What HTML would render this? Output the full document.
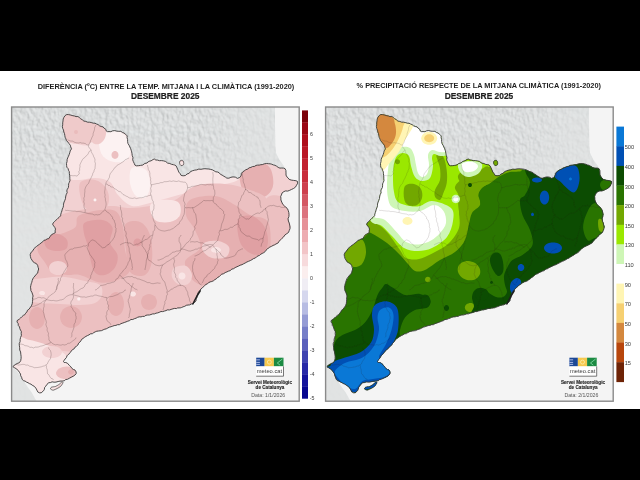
<!DOCTYPE html>
<html><head><meta charset="utf-8"><title>Mapes</title><style>
html,body{margin:0;padding:0;width:640px;height:480px;overflow:hidden;background:#000}
svg{display:block;will-change:transform}
text{font-family:"Liberation Sans",sans-serif}
</style></head><body>
<svg width="640" height="480" viewBox="0 0 640 480">
<defs>
<filter id="relief" x="0" y="0" width="100%" height="100%" color-interpolation-filters="sRGB">
<feTurbulence type="fractalNoise" baseFrequency="0.28 0.18" numOctaves="3" seed="7" result="n"/>
<feDiffuseLighting in="n" surfaceScale="1.6" diffuseConstant="1" lighting-color="#fff" result="l"><feDistantLight azimuth="315" elevation="50"/></feDiffuseLighting>
<feGaussianBlur in="l" stdDeviation="0.45" result="lb"/>
<feColorMatrix in="lb" type="matrix" values="0.2 0 0 0 0.703  0.2 0 0 0 0.711  0.2 0 0 0 0.713  0 0 0 0 1" result="m"/>
<feComposite in="m" in2="SourceGraphic" operator="in"/>
</filter>
<linearGradient id="rg" x1="0" y1="0" x2="0" y2="1">
<stop offset="0" stop-color="#fff"/><stop offset="0.15" stop-color="#fff" stop-opacity="0.95"/><stop offset="0.37" stop-color="#fff" stop-opacity="0.2"/><stop offset="0.6" stop-color="#fff" stop-opacity="0.08"/><stop offset="1" stop-color="#fff" stop-opacity="0.06"/>
</linearGradient>
<linearGradient id="rgx" x1="0" y1="0" x2="1" y2="0">
<stop offset="0" stop-color="#000" stop-opacity="0"/><stop offset="0.66" stop-color="#000" stop-opacity="0"/><stop offset="0.86" stop-color="#000" stop-opacity="0.6"/><stop offset="1" stop-color="#000" stop-opacity="0.6"/>
</linearGradient>
<mask id="rmask" maskContentUnits="objectBoundingBox"><rect width="1" height="1" fill="url(#rg)"/><rect width="1" height="1" fill="url(#rgx)"/></mask>
</defs>
<rect width="640" height="480" fill="#000"/>
<rect x="0" y="71" width="640" height="338" fill="#fff"/>
<text x="37.7" y="89.4" font-size="7.35" font-weight="bold" textLength="256.6" lengthAdjust="spacingAndGlyphs" fill="#1e1e1e">DIFERÈNCIA (ºC) ENTRE LA TEMP. MITJANA I LA CLIMÀTICA (1991-2020)</text>
<text x="131" y="99.2" font-size="8.6" font-weight="bold" textLength="68.5" lengthAdjust="spacingAndGlyphs" fill="#1e1e1e" stroke="#1e1e1e" stroke-width="0.2">DESEMBRE 2025</text>
<text x="356.6" y="88.3" font-size="7.35" font-weight="bold" textLength="244.4" lengthAdjust="spacingAndGlyphs" fill="#1e1e1e">% PRECIPITACIÓ RESPECTE DE LA MITJANA CLIMÀTICA (1991-2020)</text>
<text x="444.7" y="98.8" font-size="8.6" font-weight="bold" textLength="68.6" lengthAdjust="spacingAndGlyphs" fill="#1e1e1e" stroke="#1e1e1e" stroke-width="0.2">DESEMBRE 2025</text>
<clipPath id="fr0"><rect x="11.6" y="107" width="287.6" height="294.2"/></clipPath>
<clipPath id="cat0"><path d="M66.8 114.4C67.7 114.2 71.8 115.1 73 115.4C74.2 115.7 78 116.9 79.3 117.5C80.6 118.1 84.4 121.2 85.6 121.7C86.9 122.2 90.6 122.4 91.8 122.7C93 123 96.8 124.3 98 124.8C99.2 125.3 103.4 127.3 104.3 128C105.3 128.7 106.7 131.7 107.5 132C108.3 132.3 111.5 131.1 112.7 131C113.8 130.9 117.9 130.8 119 131C120.1 131.2 123.2 132.5 124 133C124.8 133.5 126.6 134.9 127 136C127.4 137.1 128 142.2 128.3 143.5C128.6 144.8 130 147.6 130.4 148.8C130.8 149.9 132 154.1 132.2 155.4C132.5 156.7 132.9 160.7 133.3 161.7C133.7 162.7 135.5 165.5 136.4 165.8C137.3 166.1 141.7 165.1 142.7 164.8C143.7 164.5 146 163.1 146.8 162.7C147.6 162.3 150.4 160.9 151 160.6C151.6 160.2 152.2 159.2 153 159.2C153.8 159.2 158 160.3 159.3 160.6C160.6 160.8 164.6 161.4 165.6 161.7C166.6 162 168.8 163.4 169.8 163.8C170.7 164.1 174.3 164.4 175 164.8C175.7 165.2 176.6 167.3 177 168C177.4 168.7 178.6 171.3 179 172C179.4 172.7 180.6 174.9 181.2 175.2C181.8 175.5 184.5 175.5 185.4 175.2C186.3 174.9 189.7 172.5 190.6 172C191.5 171.5 193.7 170.3 194.8 170C195.8 169.7 199.8 169.1 201 169C202.2 168.9 205.7 168.8 207 169C208.3 169.2 212.9 170.3 214.3 170.8C215.7 171.3 219.4 173.3 220.6 174C221.9 174.7 225.6 177.7 226.8 178C228 178.3 231.8 177 233 177C234.2 177 238.3 178.5 239.3 178C240.2 177.5 241.7 172.8 242.5 171.9C243.3 171 246.4 169.4 247.7 168.8C249.1 168.1 254.5 166.1 256 165.6C257.5 165.1 261 164.4 262.2 164.2C263.5 164 267.2 163.4 268.5 163.5C269.8 163.6 273.6 165.2 274.8 165.6C275.9 166 279 167.4 280 167.7C281 168 284.4 168 285 168.8C285.6 169.5 285.8 174 286.2 175C286.6 176 288.6 178.7 289.3 179.2C290 179.7 292.7 180 293.5 180.2C294.3 180.4 297.4 180.7 297.7 181.2C298 181.8 297 184.7 296.6 185.4C296.2 186.1 294.2 188 293.5 188.5C292.8 189 290.2 190.3 289.3 190.6C288.3 190.9 284.8 191.3 284 191.7C283.2 192.1 281.3 194 281 194.8C280.7 195.6 280.8 199.1 281 200C281.2 200.9 282.5 203.5 283 204.2C283.5 204.9 285.7 206.7 286.2 207.3C286.7 207.9 288 209.7 288.3 210.4C288.6 211.1 289.3 213.8 289.3 214.6C289.3 215.4 288.3 217.9 288.3 218.8C288.3 219.6 289.1 222.2 289.3 223C289.5 223.8 290.5 226.1 290.4 227C290.3 227.9 288.8 231.5 288.3 232.3C287.8 233.1 285.6 234.8 285 235.4C284.4 236 282.7 237.8 282 238.5C281.3 239.2 278.6 242.1 278 242.7C277.4 243.3 276.8 243.7 276 244.2C275.2 244.7 271 246.5 269.8 247.3C268.5 248.1 265 251.5 263.5 252.5C262 253.5 256.9 256.8 255.2 257.7C253.5 258.6 248.5 261.1 246.8 261.9C245.1 262.7 240.2 265.2 238.5 266C236.8 266.8 231.9 269.4 230.2 270.2C228.5 271 223.5 273.4 221.8 274.4C220.1 275.4 215 279.7 213.5 280.6C212 281.5 208.5 282.9 207.2 283.8C206 284.6 201.9 288 201 289C200.1 290 198.4 293.1 197.9 294.2C197.4 295.3 196.3 299.5 195.8 300.4C195.3 301.3 193.6 303 192.7 303.5C191.8 304 187.6 305.2 186.4 305.6C185.1 306 181.1 307.4 180.2 307.7C179.3 308 178.8 308.1 177.7 308.3C176.6 308.5 171 309.4 169.3 309.8C167.6 310.2 162.7 311.5 161 311.9C159.3 312.3 154.4 313.6 152.7 314C151 314.4 146 315.6 144.3 316C142.6 316.4 137.7 317.5 136 318C134.3 318.5 129.4 320.6 127.7 321.2C126 321.9 121 323.9 119.3 324.4C117.6 324.9 112.5 326 111 326.5C109.5 327 106 328.9 104.8 329.4C103.5 329.8 99.8 330.6 98.5 331C97.2 331.4 93.5 332.8 92.2 333.3C91 333.9 87 335.9 86 336.5C85 337.1 82.6 338.8 81.8 339.6C81 340.4 78.7 343.7 77.7 344.8C76.7 345.9 72.5 349.9 71.5 351C70.5 352.1 68.1 354.9 67.3 356C66.5 357.1 63.8 360.8 63.5 361.5C63.2 362.2 63.7 362.4 64.1 362.6C64.5 362.8 66.8 362.8 67.4 363.1C67.9 363.4 69.2 364.8 69.6 365.3C70 365.9 71.3 368.2 71.8 368.6C72.3 369 74.6 369.4 75 369.7C75.4 370 76.2 371.3 76.2 371.9C76.2 372.4 75.4 374.6 75 375.2C74.6 375.8 72.6 377 71.8 377.4C71 377.8 68.2 378.7 67.4 379C66.6 379.3 64.8 380.4 64.1 380.6C63.4 380.9 61 381.4 60 381.5C59 381.6 55.1 381.9 54 382C52.9 382.1 49.7 382.4 48.8 382.8C48 383.2 46 385.3 45.5 386.1C45 386.9 43.8 389.8 43.4 390.5C43 391.2 41.7 392.6 41.2 392.7C40.6 392.8 38.4 392 37.9 391.6C37.3 391.2 36.2 389 35.7 388.3C35.1 387.6 33.2 385.6 32.4 385C31.6 384.4 28.9 383.2 28 382.8C27.1 382.4 24.3 381.1 23.7 380.6C23 380.1 21.8 378.1 21.5 377.4C21.2 376.7 20.7 374.7 20.4 374C20.1 373.3 18.6 371.3 18.2 370.8C17.8 370.3 16.5 369 16 368.6C15.5 368.2 13.1 367.1 13 366.7C12.9 366.3 14.6 365 15.2 364.6C15.8 364.2 18.7 363.1 19.3 362.5C19.9 361.9 21.3 359.4 21.4 358.3C21.5 357.2 20.6 353.2 20.4 352C20.2 350.8 19.3 347 19.3 345.8C19.3 344.6 20.2 340.9 20.4 339.6C20.6 338.4 21.5 334.6 21.4 333.3C21.3 332 19.7 328.2 19.3 327C18.9 325.8 17.2 321.6 17.2 320.8C17.2 320 18.7 319.3 19.3 318.8C19.9 318.2 22.7 316.4 23.5 315.6C24.3 314.8 26.9 311.4 27.7 310.4C28.5 309.4 31.3 306.6 31.8 305.2C32.3 303.8 32.9 297.6 32.8 296C32.7 294.4 30.6 290.4 30.5 289C30.4 287.6 31.3 283.3 31.6 282.2C32 281.1 33.4 278.5 34 277.6C34.6 276.7 36.9 274 37.4 273C37.8 272 38.6 268.1 38.5 267.2C38.4 266.3 36.8 264.4 36.2 263.8C35.6 263.2 33.4 262.4 32.8 261.5C32.2 260.6 30.4 255.8 30.5 254.6C30.6 253.3 33.1 250 34 249C34.9 248 38.6 245.2 39.7 244.3C40.8 243.4 44.5 240.3 45.4 239.7C46.3 239.1 47.9 238.9 48.5 238.4C49.1 237.9 50.7 235.3 51.3 234.7C52 234.1 54.6 233.2 55 232.5C55.4 231.8 55.2 228.3 55 227.5C54.8 226.7 52.4 225.1 52.5 224.4C52.6 223.7 55.2 221.5 56 220.6C56.8 219.7 59.5 217.2 60.3 215.6C61.1 214 63.2 206.1 63.8 204.2C64.3 202.3 65.2 198.2 65.5 197C65.8 195.8 66.5 193.8 66.8 192.5C67.2 191.2 68.7 185.7 69 184C69.3 182.3 70 177 70 175.8C70 174.6 69.3 172.7 69 171.7C68.7 170.7 66.9 166.8 66.8 165.4C66.7 164 67.6 159.2 67.9 158C68.2 156.8 69.7 154.1 70 153C70.3 151.9 71.3 148 71 146.7C70.7 145.4 67.5 141.9 66.8 140.4C66.1 138.9 64.1 133.6 63.7 132C63.3 130.4 62.7 126.2 62.7 124.8C62.7 123.3 63.3 118.5 63.7 117.5C64.1 116.5 65.9 114.6 66.8 114.4Z"/><path d="M63 382.8C62.9 383.2 61.4 385.6 60.9 386.1C60.4 386.7 58.4 387.9 57.6 388.3C56.8 388.7 53.9 390.1 53.2 390.2C52.5 390.3 50.7 389.3 50.5 389C50.3 388.7 51 387.4 51.5 387.2C52 386.9 54.6 386.8 55.4 386.5C56.1 386.2 58.3 385 59 384.5C59.7 384 61.6 382 62 381.8C62.4 381.6 63.1 382.4 63 382.8Z"/><path d="M180 161C180.4 160.5 181.7 160.1 182.3 160.3C182.9 160.5 183.4 161.4 183.6 162.2C183.8 162.9 183.8 164.2 183.4 164.8C183 165.4 181.6 165.8 181 165.6C180.4 165.3 179.8 164.1 179.6 163.3C179.4 162.5 179.6 161.5 180 161Z"/></clipPath>
<g clip-path="url(#fr0)">
<rect x="11.6" y="107" width="287.6" height="294.2" fill="#f4f4f4"/>
<path d="M10 105L275 105L275 125L275.3 145L276 153L279.5 160L283.5 165.5L285 168.8L286.2 175L289.3 179.2L293.5 180.2L297.7 181.2L296.6 185.4L293.5 188.5L289.3 190.6L284 191.7L281 194.8L281 200L283 204.2L286.2 207.3L288.3 210.4L289.3 214.6L288.3 218.8L289.3 223L290.4 227L288.3 232.3L285 235.4L282 238.5L278 242.7L276 244.2L269.8 247.3L263.5 252.5L255.2 257.7L246.8 261.9L238.5 266L230.2 270.2L221.8 274.4L213.5 280.6L207.2 283.8L201 289L197.9 294.2L195.8 300.4L192.7 303.5L186.4 305.6L180.2 307.7L177.7 308.3L169.3 309.8L161 311.9L152.7 314L144.3 316L136 318L127.7 321.2L119.3 324.4L111 326.5L104.8 329.4L98.5 331L92.2 333.3L86 336.5L81.8 339.6L77.7 344.8L71.5 351L67.3 356L63.5 361.5L64.1 362.6L67.4 363.1L69.6 365.3L71.8 368.6L75 369.7L76.2 371.9L75 375.2L71.8 377.4L67.4 379L64.1 380.6L60 381.5L54 382L48.8 382.8L45.5 386.1L43.4 390.5L41.2 392.7L37.9 391.6L35.7 388.3L32.4 385L28 382.8L23.7 380.6L21.5 377.4L20.4 374L18.2 370.8L16 368.6L13 366.7L17 371L22 378L27 386L32 393L37 402L10 402Z" fill="#e2e4e4"/>
<path d="M10 105L275 105L275 125L275.3 145L276 153L279.5 160L283.5 165.5L285 168.8L286.2 175L289.3 179.2L293.5 180.2L297.7 181.2L296.6 185.4L293.5 188.5L289.3 190.6L284 191.7L281 194.8L281 200L283 204.2L286.2 207.3L288.3 210.4L289.3 214.6L288.3 218.8L289.3 223L290.4 227L288.3 232.3L285 235.4L282 238.5L278 242.7L276 244.2L269.8 247.3L263.5 252.5L255.2 257.7L246.8 261.9L238.5 266L230.2 270.2L221.8 274.4L213.5 280.6L207.2 283.8L201 289L197.9 294.2L195.8 300.4L192.7 303.5L186.4 305.6L180.2 307.7L177.7 308.3L169.3 309.8L161 311.9L152.7 314L144.3 316L136 318L127.7 321.2L119.3 324.4L111 326.5L104.8 329.4L98.5 331L92.2 333.3L86 336.5L81.8 339.6L77.7 344.8L71.5 351L67.3 356L63.5 361.5L64.1 362.6L67.4 363.1L69.6 365.3L71.8 368.6L75 369.7L76.2 371.9L75 375.2L71.8 377.4L67.4 379L64.1 380.6L60 381.5L54 382L48.8 382.8L45.5 386.1L43.4 390.5L41.2 392.7L37.9 391.6L35.7 388.3L32.4 385L28 382.8L23.7 380.6L21.5 377.4L20.4 374L18.2 370.8L16 368.6L13 366.7L17 371L22 378L27 386L32 393L37 402L10 402Z" fill="#fff" filter="url(#relief)" mask="url(#rmask)"/>
<g clip-path="url(#cat0)">
<rect x="11.6" y="107" width="287.6" height="294.2" fill="#f2d1d2"/>
<path d="M88 116C91.3 113 103.3 122.7 110 126C116.7 129.3 123 131.7 128 136C133 140.3 134.7 148 140 152C145.3 156 152.5 158.3 160 160C167.5 161.7 175.8 161.5 185 162C194.2 162.5 205.8 162.3 215 163C224.2 163.7 236.2 163.2 240 166C243.8 168.8 242.2 176.7 238 180C233.8 183.3 223 184 215 186C207 188 197.8 190 190 192C182.2 194 174.7 196.2 168 198C161.3 199.8 156 201.7 150 203C144 204.3 137.3 207.3 132 206C126.7 204.7 121.7 199 118 195C114.3 191 113.8 184.8 110 182C106.2 179.2 100.3 178.3 95 178C89.7 177.7 82.8 180.3 78 180C73.2 179.7 69 181 66 176C63 171 59.3 155.5 60 150C60.7 144.5 65 144 70 143C75 142 87 148.5 90 144C93 139.5 84.7 119 88 116Z" fill="#f9e5e5"/>
<path d="M100 130C102.5 126.3 110.3 126.3 115 128C119.7 129.7 125.5 135.5 128 140C130.5 144.5 131 151.3 130 155C129 158.7 125.7 161.2 122 162C118.3 162.8 111.7 162 108 160C104.3 158 101.3 155 100 150C98.7 145 97.5 133.7 100 130Z" fill="#fcf2f2"/>
<path d="M132 168C134.7 165.8 143 167.2 146 170C149 172.8 150 180.5 150 185C150 189.5 148.3 195.2 146 197C143.7 198.8 138.7 198.3 136 196C133.3 193.7 130.7 187.7 130 183C129.3 178.3 129.3 170.2 132 168Z" fill="#fcf2f2"/>
<path d="M177 209C177 211.1 175.7 213.9 174.1 215.4C172.4 216.9 169.4 218 167 218C164.6 218 161.6 216.9 159.9 215.4C158.3 213.9 157 211.1 157 209C157 206.9 158.3 204.1 159.9 202.6C161.6 201.1 164.6 200 167 200C169.4 200 172.4 201.1 174.1 202.6C175.7 204.1 177 206.9 177 209Z" fill="#f9e5e5"/>
<path d="M168.5 206C168.5 206.8 168.1 207.9 167.5 208.5C166.9 209.1 165.8 209.5 165 209.5C164.2 209.5 163.1 209.1 162.5 208.5C161.9 207.9 161.5 206.8 161.5 206C161.5 205.2 161.9 204.1 162.5 203.5C163.1 202.9 164.2 202.5 165 202.5C165.8 202.5 166.9 202.9 167.5 203.5C168.1 204.1 168.5 205.2 168.5 206Z" fill="#fcf2f2"/>
<path d="M64 113C67 111.7 74.8 115.5 80 117C85.2 118.5 92.2 119.5 95 122C97.8 124.5 97.5 128.7 97 132C96.5 135.3 94.8 140 92 142C89.2 144 84 144.2 80 144C76 143.8 71 144.2 68 141C65 137.8 62.7 129.7 62 125C61.3 120.3 61 114.3 64 113Z" fill="#efcaca"/>
<path d="M78 132C78 132.6 77.5 133.4 77 133.7C76.5 134 75.5 134 75 133.7C74.5 133.4 74 132.6 74 132C74 131.4 74.5 130.6 75 130.3C75.5 130 76.5 130 77 130.3C77.5 130.6 78 131.4 78 132Z" fill="#eabcbc"/>
<path d="M93 122C94.5 121 97.8 123 100 124C102.2 125 105.2 125.7 106 128C106.8 130.3 106.2 135.3 105 138C103.8 140.7 101.2 143.3 99 144C96.8 144.7 93.3 144.3 92 142C90.7 139.7 90.8 133.3 91 130C91.2 126.7 91.5 123 93 122Z" fill="#f0caca"/>
<path d="M118.5 155C118.5 155.9 118.1 157.2 117.5 157.8C116.9 158.5 115.8 159 115 159C114.2 159 113.1 158.5 112.5 157.8C111.9 157.2 111.5 155.9 111.5 155C111.5 154.1 111.9 152.8 112.5 152.2C113.1 151.5 114.2 151 115 151C115.8 151 116.9 151.5 117.5 152.2C118.1 152.8 118.5 154.1 118.5 155Z" fill="#ecc0c1"/>
<path d="M80 183C82.2 179.3 90.7 179.2 95 180C99.3 180.8 103.7 184.7 106 188C108.3 191.3 109.3 196.3 109 200C108.7 203.7 107.2 208.2 104 210C100.8 211.8 93.7 212.3 90 211C86.3 209.7 83.7 206.7 82 202C80.3 197.3 77.8 186.7 80 183Z" fill="#ecc0c1"/>
<path d="M96.5 200C96.5 200.4 96.1 201.1 95.8 201.3C95.4 201.5 94.6 201.5 94.2 201.3C93.9 201.1 93.5 200.4 93.5 200C93.5 199.6 93.9 198.9 94.2 198.7C94.6 198.5 95.4 198.5 95.8 198.7C96.1 198.9 96.5 199.6 96.5 200Z" fill="#fcf2f2"/>
<path d="M242 165C244.7 161.7 251.3 160.5 256 161C260.7 161.5 267.2 163.8 270 168C272.8 172.2 274 181.2 273 186C272 190.8 268.3 195.3 264 197C259.7 198.7 251 198.7 247 196C243 193.3 240.8 186.2 240 181C239.2 175.8 239.3 168.3 242 165Z" fill="#e6b0b1"/>
<path d="M266 200C268.3 194 275.7 195.2 280 196C284.3 196.8 289.7 200.2 292 205C294.3 209.8 294.7 218.8 294 225C293.3 231.2 291.3 238.5 288 242C284.7 245.5 277.7 247.7 274 246C270.3 244.3 267.3 239.7 266 232C264.7 224.3 263.7 206 266 200Z" fill="#ecc0c1"/>
<path d="M40 225C48 219.2 53.3 217.5 60 215C66.7 212.5 71.7 211.5 80 210C88.3 208.5 101.7 206.3 110 206C118.3 205.7 123.3 208 130 208C136.7 208 142.5 207.3 150 206C157.5 204.7 167.5 203.3 175 200C182.5 196.7 186.7 188.7 195 186C203.3 183.3 215.8 183.3 225 184C234.2 184.7 242.8 187.3 250 190C257.2 192.7 263 193.3 268 200C273 206.7 277.2 219.2 280 230C282.8 240.8 298.3 250 285 265C271.7 280 227.5 306.7 200 320C172.5 333.3 140 339.7 120 345C100 350.3 93.3 351.7 80 352C66.7 352.3 51.3 349 40 347C28.7 345 16.7 356.2 12 340C7.3 323.8 7.3 269.2 12 250C16.7 230.8 32 230.8 40 225Z" fill="#ecc0c1"/>
<path d="M80 215C86.2 212.1 105.4 208.3 112.5 210C119.6 211.7 120.4 218.3 122.5 225C124.6 231.7 123.8 242.5 125 250C126.2 257.5 131.2 265 130 270C128.8 275 122.5 277.9 117.5 280C112.5 282.1 106.2 283.3 100 282.5C93.8 281.7 85.4 276.2 80 275C74.6 273.8 72.1 275.4 67.5 275C62.9 274.6 56.2 274.6 52.5 272.5C48.8 270.4 47.5 266.2 45 262.5C42.5 258.8 37.9 254.2 37.5 250C37.1 245.8 39.2 240 42.5 237.5C45.8 235 52.1 236.7 57.5 235C62.9 233.3 71.2 230.8 75 227.5C78.8 224.2 73.8 217.9 80 215Z" fill="#e6b0b1"/>
<path d="M125 225C127.3 220.3 135.8 220.3 140 222C144.2 223.7 148 228.7 150 235C152 241.3 152.8 253.3 152 260C151.2 266.7 148.7 273 145 275C141.3 277 133.2 276.2 130 272C126.8 267.8 126.8 257.8 126 250C125.2 242.2 122.7 229.7 125 225Z" fill="#e6b0b1"/>
<path d="M190 200C194.8 196.8 207.5 195.2 215 196C222.5 196.8 229.2 201.8 235 205C240.8 208.2 244.5 212.2 250 215C255.5 217.8 264.7 216.2 268 222C271.3 227.8 271 242.3 270 250C269 257.7 267 263.3 262 268C257 272.7 247.8 275.2 240 278C232.2 280.8 222.5 284.3 215 285C207.5 285.7 200 285.8 195 282C190 278.2 184.2 267.7 185 262C185.8 256.3 198.3 253.3 200 248C201.7 242.7 197.3 235.5 195 230C192.7 224.5 186.8 220 186 215C185.2 210 185.2 203.2 190 200Z" fill="#e6b0b1"/>
<path d="M85 222.5C88.1 220.4 97.9 219.2 102.5 220C107.1 220.8 111.2 223.8 112.5 227.5C113.8 231.2 109.2 237.9 110 242.5C110.8 247.1 116.7 250.8 117.5 255C118.3 259.2 117.1 264.2 115 267.5C112.9 270.8 108.3 274.2 105 275C101.7 275.8 97.5 275.4 95 272.5C92.5 269.6 91.2 262.1 90 257.5C88.8 252.9 88.5 249.2 87.5 245C86.5 240.8 84.2 236.2 83.8 232.5C83.3 228.8 81.9 224.6 85 222.5Z" fill="#e0a0a3"/>
<path d="M45 236C47 233.8 54.3 233.3 58 234C61.7 234.7 65.7 237.5 67 240C68.3 242.5 68 247.2 66 249C64 250.8 58.3 251.3 55 251C51.7 250.7 47.7 249.5 46 247C44.3 244.5 43 238.2 45 236Z" fill="#e0a0a3"/>
<path d="M141.5 242.5C141.5 243.4 141 244.7 140.3 245.3C139.7 246 138.4 246.5 137.5 246.5C136.6 246.5 135.3 246 134.7 245.3C134 244.7 133.5 243.4 133.5 242.5C133.5 241.6 134 240.3 134.7 239.7C135.3 239 136.6 238.5 137.5 238.5C138.4 238.5 139.7 239 140.3 239.7C141 240.3 141.5 241.6 141.5 242.5Z" fill="#e0a0a3"/>
<path d="M238 220C240 215.7 247.7 215 252 216C256.3 217 261.3 221.7 264 226C266.7 230.3 268.3 237.3 268 242C267.7 246.7 265 252.2 262 254C259 255.8 253.7 255 250 253C246.3 251 242 247.5 240 242C238 236.5 236 224.3 238 220Z" fill="#e0a0a3"/>
<path d="M200 262C205 258.7 216.7 259 225 258C233.3 257 243.8 255.3 250 256C256.2 256.7 262 258.8 262 262C262 265.2 256.2 271.5 250 275C243.8 278.5 232.5 281.3 225 283C217.5 284.7 210 285.8 205 285C200 284.2 195.8 281.8 195 278C194.2 274.2 195 265.3 200 262Z" fill="#e6b0b1"/>
<path d="M204 243C206.5 241.3 213.8 240.3 218 241C222.2 241.7 227.7 244.3 229 247C230.3 249.7 228.8 255.2 226 257C223.2 258.8 215.8 259 212 258C208.2 257 204.3 253.5 203 251C201.7 248.5 201.5 244.7 204 243Z" fill="#f2d1d2"/>
<path d="M221 250C221 250.7 220.4 251.6 219.5 252.1C218.7 252.6 217.2 253 216 253C214.8 253 213.3 252.6 212.5 252.1C211.6 251.6 211 250.7 211 250C211 249.3 211.6 248.4 212.5 247.9C213.3 247.4 214.8 247 216 247C217.2 247 218.7 247.4 219.5 247.9C220.4 248.4 221 249.3 221 250Z" fill="#f9e5e5"/>
<path d="M174 268C176.3 266.2 183 264.8 186 266C189 267.2 191.7 272 192 275C192.3 278 190.3 282.5 188 284C185.7 285.5 180.7 285.2 178 284C175.3 282.8 172.7 279.7 172 277C171.3 274.3 171.7 269.8 174 268Z" fill="#f2d1d2"/>
<path d="M185.5 276C185.5 276.8 185.1 277.9 184.5 278.5C183.9 279.1 182.8 279.5 182 279.5C181.2 279.5 180.1 279.1 179.5 278.5C178.9 277.9 178.5 276.8 178.5 276C178.5 275.2 178.9 274.1 179.5 273.5C180.1 272.9 181.2 272.5 182 272.5C182.8 272.5 183.9 272.9 184.5 273.5C185.1 274.1 185.5 275.2 185.5 276Z" fill="#f9e5e5"/>
<path d="M150 206C150.8 202.7 155.3 200.7 160 200C164.7 199.3 174.7 199.5 178 202C181.3 204.5 181.3 211.7 180 215C178.7 218.3 174.2 221.2 170 222C165.8 222.8 158.3 222.7 155 220C151.7 217.3 149.2 209.3 150 206Z" fill="#f9e5e5"/>
<path d="M28 282C30.8 278.5 38.8 278.8 45 278C51.2 277.2 58.3 276.5 65 277C71.7 277.5 79.2 279.7 85 281C90.8 282.3 97.2 282.7 100 285C102.8 287.3 102.8 292 102 295C101.2 298 98.7 301.3 95 303C91.3 304.7 85.8 304.8 80 305C74.2 305.2 66.7 304.3 60 304C53.3 303.7 45.3 303.8 40 303C34.7 302.2 30 302.5 28 299C26 295.5 25.2 285.5 28 282Z" fill="#f2d1d2"/>
<path d="M67 268C67 269.6 65.9 271.8 64.4 272.9C62.9 274.1 60.1 275 58 275C55.9 275 53.1 274.1 51.6 272.9C50.1 271.8 49 269.6 49 268C49 266.4 50.1 264.2 51.6 263.1C53.1 261.9 55.9 261 58 261C60.1 261 62.9 261.9 64.4 263.1C65.9 264.2 67 266.4 67 268Z" fill="#f2d1d2"/>
<path d="M44.6 293.5C44.6 294 44.2 294.7 43.8 294.9C43.4 295.1 42.6 295.1 42.2 294.9C41.8 294.7 41.4 294 41.4 293.5C41.4 293 41.8 292.3 42.2 292.1C42.6 291.9 43.4 291.9 43.8 292.1C44.2 292.3 44.6 293 44.6 293.5Z" fill="#fcf2f2"/>
<path d="M80.4 299C80.4 299.5 80 300.2 79.6 300.4C79.2 300.6 78.4 300.6 78 300.4C77.6 300.2 77.2 299.5 77.2 299C77.2 298.5 77.6 297.8 78 297.6C78.4 297.4 79.2 297.4 79.6 297.6C80 297.8 80.4 298.5 80.4 299Z" fill="#fcf2f2"/>
<path d="M82 317C82 319.6 80.6 322.9 78.8 324.8C76.9 326.6 73.6 328 71 328C68.4 328 65.1 326.6 63.2 324.8C61.4 322.9 60 319.6 60 317C60 314.4 61.4 311.1 63.2 309.2C65.1 307.4 68.4 306 71 306C73.6 306 76.9 307.4 78.8 309.2C80.6 311.1 82 314.4 82 317Z" fill="#e6b0b1"/>
<path d="M45 318C45 320.6 44 323.9 42.7 325.8C41.3 327.6 38.9 329 37 329C35.1 329 32.7 327.6 31.3 325.8C30 323.9 29 320.6 29 318C29 315.4 30 312.1 31.3 310.2C32.7 308.4 35.1 307 37 307C38.9 307 41.3 308.4 42.7 310.2C44 312.1 45 315.4 45 318Z" fill="#e6b0b1"/>
<path d="M124 304C124 306.8 123 310.5 121.7 312.5C120.3 314.5 117.9 316 116 316C114.1 316 111.7 314.5 110.3 312.5C109 310.5 108 306.8 108 304C108 301.2 109 297.5 110.3 295.5C111.7 293.5 114.1 292 116 292C117.9 292 120.3 293.5 121.7 295.5C123 297.5 124 301.2 124 304Z" fill="#e6b0b1"/>
<path d="M157 302C157 303.9 156 306.3 154.7 307.7C153.3 309 150.9 310 149 310C147.1 310 144.7 309 143.3 307.7C142 306.3 141 303.9 141 302C141 300.1 142 297.7 143.3 296.3C144.7 295 147.1 294 149 294C150.9 294 153.3 295 154.7 296.3C156 297.7 157 300.1 157 302Z" fill="#e6b0b1"/>
<path d="M10 338C13.3 330.5 23.3 338.7 30 340C36.7 341.3 44.7 344 50 346C55.3 348 58.3 349.3 62 352C65.7 354.7 70 359 72 362C74 365 75.2 367 74 370C72.8 373 69 376.3 65 380C61 383.7 55.8 389 50 392C44.2 395 36.7 399.2 30 398C23.3 396.8 13.3 395 10 385C6.7 375 6.7 345.5 10 338Z" fill="#f9e5e5"/>
<path d="M62 352C62 353.4 60.7 355.2 59.1 356.2C57.4 357.2 54.4 358 52 358C49.6 358 46.6 357.2 44.9 356.2C43.3 355.2 42 353.4 42 352C42 350.6 43.3 348.8 44.9 347.8C46.6 346.8 49.6 346 52 346C54.4 346 57.4 346.8 59.1 347.8C60.7 348.8 62 350.6 62 352Z" fill="#f2d1d2"/>
<path d="M78 373C78 374.5 76.6 376.5 74.8 377.6C72.9 378.7 69.6 379.5 67 379.5C64.4 379.5 61.1 378.7 59.2 377.6C57.4 376.5 56 374.5 56 373C56 371.5 57.4 369.5 59.2 368.4C61.1 367.3 64.4 366.5 67 366.5C69.6 366.5 72.9 367.3 74.8 368.4C76.6 369.5 78 371.5 78 373Z" fill="#ecc0c1"/>
<path d="M74 372C74 372.7 73.2 373.8 72.5 374.2C71.8 374.5 70.2 374.5 69.5 374.2C68.8 373.8 68 372.7 68 372C68 371.3 68.8 370.2 69.5 369.8C70.2 369.5 71.8 369.5 72.5 369.8C73.2 370.2 74 371.3 74 372Z" fill="#e6b0b1"/>
<path d="M45 293C45 293.6 44.2 294.4 43.5 294.7C42.8 295 41.2 295 40.5 294.7C39.8 294.4 39 293.6 39 293C39 292.4 39.8 291.6 40.5 291.3C41.2 291 42.8 291 43.5 291.3C44.2 291.6 45 292.4 45 293Z" fill="#f9e5e5"/>
<path d="M136 294C136 294.7 135.2 295.8 134.5 296.2C133.8 296.5 132.2 296.5 131.5 296.2C130.8 295.8 130 294.7 130 294C130 293.3 130.8 292.2 131.5 291.8C132.2 291.5 133.8 291.5 134.5 291.8C135.2 292.2 136 293.3 136 294Z" fill="#f9e5e5"/>
</g>
<g clip-path="url(#cat0)">
<path d="M67.5 140.0L68.8 140.3L70.6 141.0L72.8 141.2L74.8 142.4L76.6 142.8L78.6 143.0L80.3 142.6L81.8 143.1L83.3 143.1L85.3 143.6L86.9 144.9L88.3 145.0" fill="none" stroke="#2a1a1a" stroke-width="0.5" stroke-opacity="0.42"/>
<path d="M95.8 125.0L95.4 126.1L94.6 127.6L94.5 129.6L93.8 131.6L93.2 133.3L93.0 135.4L92.0 137.3L91.3 139.1L90.5 140.7L90.1 142.7L88.9 143.8L88.7 145.0L88.5 146.7L89.6 148.4L91.2 149.8L91.2 151.8L92.1 153.3L93.2 155.1L93.6 156.5L94.5 158.1L95.0 159.8L94.8 161.7L95.4 163.3L95.3 165.1L95.1 166.9L95.0 168.6L94.2 170.0L93.8 171.8L92.8 173.3L92.5 175.0L91.6 176.6L90.9 178.3L89.9 179.9L89.2 181.7L88.5 183.4L87.1 184.8L86.2 186.2L85.4 187.8L84.8 189.9L84.9 191.4L84.7 192.9L84.5 194.6L84.6 196.3L83.8 198.1L84.1 200.0L83.7 201.8L84.3 203.7L83.9 205.9L84.2 207.9L85.2 209.7L85.2 211.3L85.0 212.5" fill="none" stroke="#2a1a1a" stroke-width="0.5" stroke-opacity="0.42"/>
<path d="M90.8 150.0L89.9 150.8L88.9 152.1L88.1 153.9L87.1 155.3L85.7 156.3L84.7 157.6L83.2 158.6L82.3 159.9L81.4 161.6L80.6 163.2L79.8 165.0L80.0 166.7L79.6 168.5L79.7 170.3L78.8 171.6L79.3 173.8L78.1 174.8L77.1 176.1L75.0 175.6L73.0 175.8L70.6 175.4L69.0 175.0" fill="none" stroke="#2a1a1a" stroke-width="0.5" stroke-opacity="0.42"/>
<path d="M129.0 158.0L127.9 158.4L126.6 159.2L124.9 159.9L123.6 161.5L121.8 162.5L120.3 163.6L118.9 164.4L117.1 165.2L116.1 166.8L114.6 167.7L113.8 169.2L112.7 170.5L111.6 172.0L110.3 173.6L109.6 175.5L109.4 177.4L108.5 178.9L107.7 180.7L106.3 181.8L105.7 183.9L105.4 185.5L105.2 187.2L105.1 189.2L104.7 191.2L104.7 193.1L105.2 195.0L104.8 196.8L105.4 198.5L105.4 200.3L105.9 201.9L106.1 203.5L106.1 205.0L105.7 206.8L105.2 208.5L104.6 210.2L103.1 211.2L102.3 212.3L100.9 213.5L99.7 214.5L97.5 214.9L96.1 214.6L94.3 215.0L92.6 214.1L90.6 213.8L88.5 213.6L86.7 213.1L85.0 212.5L83.1 212.4L81.5 211.9L79.9 211.6L78.2 211.5L76.6 211.6L75.0 211.0L73.2 211.1L71.3 210.9L69.3 210.7L67.6 210.4L66.0 210.5L65.0 210.0" fill="none" stroke="#2a1a1a" stroke-width="0.5" stroke-opacity="0.42"/>
<path d="M147.5 165.0L147.6 166.1L148.1 167.6L148.3 169.5L149.4 171.2L149.9 173.2L149.8 175.0L150.1 176.7L150.7 178.3L150.5 180.0L150.9 181.7L150.6 183.4L151.4 185.0L151.3 186.7L150.6 188.3L151.0 190.0L151.1 191.7L150.5 193.3L150.9 195.0L151.7 196.6L151.8 198.3L152.3 200.1L153.3 201.6L153.3 203.4L154.1 205.0L153.9 206.7L153.9 208.4L153.4 210.1L152.3 211.6L152.6 213.3L152.0 215.0L152.8 216.7L153.1 218.4L153.5 220.1L154.2 221.7L155.2 223.3L154.9 225.0L154.7 226.6L154.8 228.4L154.5 230.1L153.2 231.6L153.0 233.3L152.8 235.1L152.1 236.7L151.9 238.4L151.0 239.9L150.8 241.7L150.8 243.4L149.7 244.9L150.0 246.7L149.4 248.2L149.2 249.8L148.1 251.2L148.3 253.1L147.5 255.0L147.6 256.6L146.9 258.3L146.4 260.2L146.2 262.1L146.0 264.1L145.7 265.9L145.4 267.6L145.1 268.9L145.0 270.0" fill="none" stroke="#2a1a1a" stroke-width="0.5" stroke-opacity="0.42"/>
<path d="M106.0 184.0L107.1 184.0L108.0 185.3L109.7 185.5L110.9 187.0L113.0 187.0L114.3 188.6L116.0 189.3L117.3 190.3L118.7 191.4L120.6 191.9L121.9 193.1L123.0 194.5L124.6 195.2L126.1 196.1L127.6 196.7L129.1 197.8L130.9 198.2L132.7 198.4L134.6 197.9L136.5 198.6L138.3 198.1L140.0 197.7L141.7 197.7L143.6 197.3L145.3 196.4L147.2 196.3L148.7 195.6L150.0 195.4L151.0 195.0" fill="none" stroke="#2a1a1a" stroke-width="0.5" stroke-opacity="0.42"/>
<path d="M151.0 185.0L152.0 184.7L153.4 184.4L155.1 184.0L156.9 183.5L158.8 183.4L160.7 182.6L162.5 182.6L164.2 181.7L166.0 181.7L167.9 181.5L169.7 181.0L171.6 181.4L173.3 180.9L175.0 181.3L176.9 181.5L178.8 180.9L180.6 181.7L182.3 181.9L183.7 182.2L185.2 182.1L186.7 183.7L187.3 185.4L187.7 187.5L187.4 189.0L186.7 190.5L185.9 192.3L184.6 193.9L184.3 195.8L183.8 197.5L183.6 199.2L183.5 200.9L184.5 202.5L185.1 204.1L184.5 205.9L184.7 207.5L184.5 209.2L184.5 210.9L184.4 212.7L184.0 214.5L183.3 216.0L182.5 217.5L182.1 219.4L180.6 220.7L179.6 222.2L179.1 224.0L177.3 224.8L176.2 226.2L174.5 227.1L173.3 228.5L171.6 229.1L170.0 230.0L168.4 230.2L166.7 230.6L164.8 231.1L163.0 230.9L161.4 230.6L160.0 230.1L158.2 229.1L156.9 227.5L155.9 225.9L155.0 225.0" fill="none" stroke="#2a1a1a" stroke-width="0.5" stroke-opacity="0.42"/>
<path d="M187.5 187.5L188.7 187.6L190.2 187.3L191.9 186.3L194.0 186.3L196.1 185.8L198.1 185.4L200.0 184.6L201.7 184.4L203.5 184.7L205.4 185.0L207.3 184.5L209.1 184.8L210.7 184.6L212.0 185.1L213.0 184.8" fill="none" stroke="#2a1a1a" stroke-width="0.5" stroke-opacity="0.42"/>
<path d="M213.0 172.0L212.8 173.0L213.1 174.4L213.2 176.0L212.9 177.8L212.8 179.7L212.9 181.6L212.9 183.3L213.2 184.8L213.6 186.9L213.7 188.9L214.7 190.6L214.8 192.4L214.9 194.0L214.4 195.8L213.4 197.4L213.3 199.3L213.3 200.8L213.4 202.2L214.6 203.3L216.2 204.1L217.2 205.6L218.4 206.9L219.6 208.0L221.2 208.9L222.3 210.3L223.6 211.4L223.5 213.3L224.7 214.6L224.2 216.3L223.9 218.2L223.3 220.1L222.6 222.1L221.8 223.7L221.4 225.6L221.1 227.3L220.7 229.0L219.8 230.7L219.0 232.4L219.5 234.4L218.6 236.2L218.1 238.1L217.8 240.1L216.8 241.4L215.4 242.3L214.4 243.6L213.1 244.8L211.8 245.7L210.9 247.0L209.1 247.6L207.9 248.6L206.7 249.5L205.4 250.5L203.6 251.0L202.1 251.8L200.5 253.0L199.0 254.3L197.2 255.1L195.8 255.8L194.6 256.0" fill="none" stroke="#2a1a1a" stroke-width="0.5" stroke-opacity="0.42"/>
<path d="M213.0 200.9L211.7 200.5L209.9 200.7L207.8 200.6L205.6 200.7L203.7 200.4L202.3 201.8L201.0 202.8L199.5 203.8L198.2 204.9L197.0 205.6L195.5 206.6L194.2 207.4L192.5 207.7L190.7 207.8L188.5 207.6L186.4 207.8L185.0 207.5" fill="none" stroke="#2a1a1a" stroke-width="0.5" stroke-opacity="0.42"/>
<path d="M192.5 207.5L192.9 208.7L193.6 210.5L194.2 212.5L195.5 213.7L195.9 215.5L196.2 217.4L196.5 219.2L196.7 220.9L196.6 222.9L195.8 224.8L194.6 226.5L195.0 228.5L194.2 230.3L193.1 231.8L193.1 233.5L192.8 235.1L192.0 236.9L190.7 238.2L190.1 240.1L189.0 241.3L187.6 242.4L186.1 243.5L185.0 245.0L184.1 246.6L182.6 247.6L181.7 249.3L180.2 250.4L178.4 251.0L176.4 251.1L174.5 252.0L172.4 252.3L171.2 253.7L169.7 254.7L168.3 255.9L166.4 256.4L164.8 257.2L163.0 258.6L160.9 259.3L159.0 260.1L157.5 260.0" fill="none" stroke="#2a1a1a" stroke-width="0.5" stroke-opacity="0.42"/>
<path d="M242.8 172.0L242.5 173.3L242.4 175.4L242.8 178.0L243.3 179.3L243.1 181.0L243.6 182.7L244.4 184.4L244.8 186.1L245.3 187.8L245.5 189.5L244.7 191.1L243.8 192.6L243.4 194.4L241.8 195.5L241.4 197.2L240.7 198.7L240.3 200.6L238.7 202.3L238.5 204.2L238.0 206.1L238.1 207.8L238.8 209.6L238.9 211.4L239.5 213.1L240.8 214.4L241.2 216.1L243.0 216.9L244.5 217.8L245.8 219.2L247.3 218.8L248.9 219.2L250.0 217.9L251.5 216.8L252.7 215.4L254.2 214.6L255.9 213.6L257.7 213.0L259.7 213.3L261.0 212.1L262.6 211.5L263.3 209.9L264.9 209.1L266.0 208.1L267.2 207.0L268.5 206.2L270.3 205.6L271.8 205.7L273.6 205.3L275.4 206.0L277.4 206.6L279.4 206.3L281.1 207.3L283.2 207.5L285.3 207.3L287.2 207.5L288.8 207.8L290.0 208.0" fill="none" stroke="#2a1a1a" stroke-width="0.5" stroke-opacity="0.42"/>
<path d="M245.0 189.4L246.2 189.7L247.6 190.5L248.6 192.4L250.7 192.7L252.2 193.7L253.4 195.0L255.0 195.5L256.2 196.8L257.9 197.2L258.4 198.8L259.8 200.2L260.1 202.4L260.1 204.6L260.7 206.5L261.1 207.8" fill="none" stroke="#2a1a1a" stroke-width="0.5" stroke-opacity="0.42"/>
<path d="M265.7 207.8L265.5 209.0L265.9 210.4L267.2 211.9L267.1 213.9L267.7 215.8L267.9 217.6L268.4 219.2L268.1 221.2L267.5 223.1L267.1 224.9L266.3 226.6L266.2 228.5L265.6 230.3L264.6 232.0L264.4 233.9L263.8 235.8L263.2 237.5L263.0 239.6L262.8 241.8L261.6 243.7L261.3 245.4L261.1 246.7" fill="none" stroke="#2a1a1a" stroke-width="0.5" stroke-opacity="0.42"/>
<path d="M240.5 214.6L239.8 215.7L239.7 217.7L238.3 219.5L238.6 221.9L238.0 223.8L238.9 225.3L238.8 227.1L240.1 228.5L240.5 230.4L241.5 231.9L242.6 233.2L244.1 234.0L245.4 235.3L247.0 236.2L249.1 236.0L250.5 237.0L251.8 238.0L253.8 238.7L255.7 239.1L257.4 239.5L258.8 240.4L260.5 239.0L262.4 238.6L263.4 237.6" fill="none" stroke="#2a1a1a" stroke-width="0.5" stroke-opacity="0.42"/>
<path d="M219.8 230.7L221.1 230.8L222.9 230.4L224.8 229.3L227.1 229.4L229.0 228.5L230.5 227.3L232.6 227.3L234.1 225.7L235.7 224.9L237.2 224.3L238.2 223.8" fill="none" stroke="#2a1a1a" stroke-width="0.5" stroke-opacity="0.42"/>
<path d="M190.0 242.2L191.2 241.8L192.9 241.7L194.9 242.0L197.1 241.5L199.1 242.5L200.7 242.9L202.8 242.9L204.5 244.2L206.4 244.9L208.1 245.7L209.4 246.7L210.6 246.7" fill="none" stroke="#2a1a1a" stroke-width="0.5" stroke-opacity="0.42"/>
<path d="M152.5 235.0L151.4 235.5L149.9 236.3L148.7 238.0L147.0 239.3L144.8 239.7L143.5 241.1L141.8 242.1L139.8 242.7L138.4 244.2L136.4 244.2L135.0 245.0L132.8 245.2L131.3 243.5L129.3 242.9L127.5 242.9L125.4 242.5L123.2 243.3L121.3 244.2L120.0 245.0" fill="none" stroke="#2a1a1a" stroke-width="0.5" stroke-opacity="0.42"/>
<path d="M127.5 242.5L128.1 243.5L127.9 245.1L128.7 246.8L129.2 248.7L129.2 250.9L129.7 253.0L130.3 254.9L130.4 256.6L130.3 258.5L131.3 260.3L131.6 262.3L132.0 264.1L132.1 266.0L132.5 267.6L131.9 269.1L132.5 270.0" fill="none" stroke="#2a1a1a" stroke-width="0.5" stroke-opacity="0.42"/>
<path d="M105.0 210.0L106.0 210.6L106.9 212.0L108.7 212.8L110.0 214.4L111.5 215.8L112.6 217.5L112.7 219.0L114.2 220.2L114.5 221.9L115.2 223.5L115.5 225.2L115.2 227.0L116.1 228.5L115.9 230.0L115.9 231.9L115.2 233.6L114.8 235.5L114.3 237.3L113.3 238.7L112.6 240.0L111.1 241.5L110.1 242.9L109.0 244.3L107.4 244.9L106.1 246.5L104.5 247.5L102.4 247.8L101.2 246.9L100.1 245.4L98.3 244.2L96.9 242.5L95.3 241.1L93.7 240.3L92.5 239.9L91.1 240.6L89.7 241.9L88.5 243.7L88.3 245.9L87.1 247.5L87.7 249.4L88.5 251.1L89.3 253.0L90.1 254.9L91.3 256.2L92.3 257.8L93.5 259.3L94.3 260.9L95.0 262.5L94.6 264.0L94.7 265.6L94.5 267.4L93.4 268.9L93.0 270.7L92.1 272.3L91.6 274.1L90.7 275.7L90.6 277.8L89.6 279.5L88.1 280.7L87.9 282.8L86.1 283.7L85.0 285.0L84.3 286.8L83.0 288.0L81.2 288.6L79.7 289.6L78.3 290.7L76.8 291.7L75.0 292.4L73.5 293.6L71.9 294.6L69.9 294.9L68.1 295.6L66.4 296.5L65.0 297.8L63.6 299.1L61.8 299.8L60.0 300.0L58.4 300.6L56.7 300.9L55.0 300.8L53.3 300.4L51.6 300.6L49.9 300.4L48.2 300.0L46.5 299.6L45.0 298.3L43.3 297.7L41.5 298.0L40.0 297.4L38.1 297.4L36.4 298.5L34.6 299.1L32.9 299.2L32.0 300.0" fill="none" stroke="#2a1a1a" stroke-width="0.5" stroke-opacity="0.42"/>
<path d="M87.5 245.0L86.6 245.5L85.3 246.1L83.6 245.9L82.0 246.7L80.1 247.2L78.1 247.5L76.1 247.8L74.2 248.0L72.7 249.1L71.0 249.1L69.8 249.6L67.8 251.4L66.6 252.5L65.7 253.5L64.7 255.0L65.0 256.4L65.2 258.1L65.8 259.9L66.8 261.5L67.4 263.3L67.9 265.0L67.5 266.8L66.1 268.2L65.3 269.9L64.2 271.5L63.3 273.3L62.3 274.9L61.6 276.7L60.5 278.4L60.4 280.5L59.3 282.0L58.8 283.7L57.7 284.9L56.7 287.1L56.7 289.0L56.0 290.0" fill="none" stroke="#2a1a1a" stroke-width="0.5" stroke-opacity="0.42"/>
<path d="M120.0 205.0L120.6 206.0L120.5 207.4L120.5 209.1L121.3 210.9L121.6 212.8L121.8 214.8L121.6 216.8L122.6 218.4L122.3 220.0L122.8 222.0L123.7 223.5L123.7 225.2L124.2 226.7L124.7 228.2L124.5 230.1L125.8 231.7L126.3 233.7L125.8 235.9L126.7 237.9L127.3 239.7L127.4 241.3L127.5 242.5" fill="none" stroke="#2a1a1a" stroke-width="0.5" stroke-opacity="0.42"/>
<path d="M130.0 257.5L129.9 258.9L129.4 260.7L128.2 262.6L127.5 265.0L126.5 266.2L126.0 268.0L124.6 269.2L123.2 270.5L122.3 272.2L120.8 273.4L119.7 274.8L118.9 276.5L118.0 278.2L116.2 279.0L115.4 280.7L114.2 282.0L112.4 282.3L110.8 282.9L109.2 283.3L107.4 283.5L105.8 284.5L104.2 284.9L102.6 285.3L100.5 285.5L99.2 287.4L97.5 288.5L96.3 289.7L95.0 290.0" fill="none" stroke="#2a1a1a" stroke-width="0.5" stroke-opacity="0.42"/>
<path d="M120.0 275.0L120.7 275.9L121.6 277.1L123.3 278.1L124.4 279.8L125.7 281.5L127.2 282.9L129.0 283.7L129.9 285.1L131.7 286.5L133.5 287.6L134.9 289.0L136.5 289.4L137.5 290.0" fill="none" stroke="#2a1a1a" stroke-width="0.5" stroke-opacity="0.42"/>
<path d="M144.4 235.0L143.9 236.2L143.0 237.9L142.2 240.0L141.8 242.2L142.2 244.2L142.1 245.9L143.3 247.3L144.3 248.8L145.4 250.2L146.0 251.9L147.0 253.2L147.5 255.2L147.6 257.1L147.9 258.8L148.8 260.3L150.4 261.0L151.7 262.1L153.0 263.2L154.4 264.3L155.8 265.1L157.6 265.5L159.3 265.8L161.1 265.3L162.8 264.9L164.0 264.0L165.4 263.1L166.7 262.0L168.2 261.2L169.7 260.3L171.1 259.4L172.4 258.4L173.9 257.5L175.1 256.5L176.7 255.8L177.7 254.5L179.0 253.3L180.1 252.0L180.5 250.3L180.7 248.8L180.8 247.1L180.8 244.9L180.0 243.0L179.0 241.2L179.1 239.6L179.2 237.5L180.6 236.2L181.1 235.0" fill="none" stroke="#2a1a1a" stroke-width="0.5" stroke-opacity="0.42"/>
<path d="M162.8 264.8L162.1 266.0L161.5 267.7L160.7 269.8L160.8 272.0L160.0 274.0L160.8 275.6L161.4 277.2L162.2 278.7L163.0 280.4L164.5 281.6L165.1 283.1L165.5 285.1L166.2 286.9L166.6 288.7L167.3 290.5L166.8 292.3L167.6 294.2L166.5 295.9L166.3 297.9L166.0 299.8L164.8 301.5L164.9 303.5L164.2 305.4L163.7 307.3L163.4 308.9L162.8 310.0" fill="none" stroke="#2a1a1a" stroke-width="0.5" stroke-opacity="0.42"/>
<path d="M121.5 278.6L122.9 278.5L124.5 277.7L126.4 277.0L128.3 276.6L130.0 276.8L132.0 276.4L133.8 277.6L135.8 277.8L137.4 278.8L139.4 279.1L141.1 279.8L142.7 280.4L144.4 281.0L146.0 281.8L147.5 282.6L149.5 282.6L151.3 283.5L153.1 283.7L155.3 283.3L157.4 282.9L159.2 283.2L160.5 283.2" fill="none" stroke="#2a1a1a" stroke-width="0.5" stroke-opacity="0.42"/>
<path d="M133.0 283.0L133.1 284.1L132.3 285.4L131.6 287.0L131.2 288.8L131.0 290.6L130.5 292.3L130.2 294.2L129.4 296.0L129.3 297.9L128.3 299.6L128.2 301.5L128.8 303.3L129.2 305.2L129.6 307.2L130.4 309.0L130.1 310.7L129.8 312.7L129.3 314.8L129.2 316.9L128.3 318.0" fill="none" stroke="#2a1a1a" stroke-width="0.5" stroke-opacity="0.42"/>
<path d="M167.3 292.3L168.2 291.6L169.7 290.9L170.9 289.3L172.8 288.8L174.1 287.6L176.0 287.0L177.7 285.9L179.5 285.5L181.1 285.3L182.9 285.6L184.3 286.7L185.7 287.7L186.0 289.3L186.9 290.8L187.7 292.5L187.9 294.6L188.5 296.4L189.4 298.5L189.5 300.7L190.5 302.4L190.3 303.8" fill="none" stroke="#2a1a1a" stroke-width="0.5" stroke-opacity="0.42"/>
<path d="M181.1 248.8L182.4 249.1L184.3 249.4L186.4 250.2L188.4 250.9L190.3 251.1L192.1 250.5L193.8 250.0L195.4 249.2L197.3 249.1L198.8 248.0L200.7 248.0L202.2 246.7L203.8 246.0L205.8 245.7L207.6 244.8L209.5 244.5L210.9 244.6L212.3 244.9L213.6 245.9L214.3 247.6L215.5 248.8L217.2 250.1L218.6 251.7L220.4 253.0L220.9 254.8L222.4 255.8L223.4 257.1L224.7 258.1L226.3 258.1L228.3 257.8L230.4 257.2L232.4 256.6L234.1 256.0L235.7 254.9L236.3 253.2L237.3 251.9L238.2 250.7L240.1 249.9L241.7 249.0L243.0 248.8" fill="none" stroke="#2a1a1a" stroke-width="0.5" stroke-opacity="0.42"/>
<path d="M174.2 258.0L173.8 259.0L174.6 260.5L174.3 262.2L173.6 264.1L173.9 266.0L174.5 267.8L174.4 269.4L174.1 271.5L174.9 273.3L175.8 275.1L175.5 277.1L176.8 278.4L177.2 280.3L178.3 281.9L179.5 283.3L180.1 284.9L181.1 285.5" fill="none" stroke="#2a1a1a" stroke-width="0.5" stroke-opacity="0.42"/>
<path d="M194.9 258.0L194.9 259.1L194.5 260.5L193.3 262.0L193.1 263.9L192.6 265.8L192.5 267.7L192.7 269.4L192.7 271.2L193.3 272.9L193.8 274.8L194.7 276.5L195.4 278.3L196.5 279.6L197.5 280.7L198.7 282.4L199.6 284.1L201.1 284.6L201.7 285.5" fill="none" stroke="#2a1a1a" stroke-width="0.5" stroke-opacity="0.42"/>
<path d="M215.5 248.8L216.2 249.7L216.4 251.2L217.0 252.9L216.9 254.9L217.4 256.8L217.4 258.6L218.2 260.2L217.5 261.9L217.3 263.7L216.3 265.2L215.2 266.6L214.6 268.3L213.4 269.6L212.0 270.6L211.0 271.8L209.9 273.2L208.5 274.0L207.1 275.0L206.7 276.6L204.9 277.6L203.9 279.3L203.2 281.0L202.6 282.4L201.7 283.2" fill="none" stroke="#2a1a1a" stroke-width="0.5" stroke-opacity="0.42"/>
<path d="M58.5 278.0L58.1 279.1L58.5 280.6L58.0 282.4L57.6 284.3L57.0 286.3L56.8 288.3L56.0 290.0L55.4 291.6L53.9 292.7L52.6 294.0L50.8 294.9L49.5 296.3L48.0 297.4L47.0 298.8L46.3 300.2L44.8 301.5L44.1 303.1L44.1 304.9L44.1 306.5L43.5 308.2L43.5 310.0L43.3 311.7L43.8 313.4L44.2 315.2L44.6 317.0L45.3 318.8L46.0 320.6L46.4 322.4L45.9 324.4L46.4 326.3L47.3 328.1L47.0 330.1L47.8 331.8L48.5 333.4L48.2 335.1L48.9 337.4L48.9 339.5L49.7 341.2L51.3 342.2L52.2 343.4L53.7 344.2L55.4 344.8L57.4 344.6L59.2 345.0L61.0 345.2L62.7 344.6L64.6 345.0L66.4 344.5L67.9 343.3L69.7 343.2L70.9 342.4L72.5 341.1L74.2 339.9L75.6 338.8L76.0 337.5" fill="none" stroke="#2a1a1a" stroke-width="0.5" stroke-opacity="0.42"/>
<path d="M46.0 300.0L44.9 300.5L43.2 301.1L41.8 302.6L39.8 303.6L38.0 304.7L36.1 305.4L34.5 306.1L32.7 306.4L30.9 306.5L29.1 306.4L27.5 307.0L26.0 307.6L24.2 307.8L22.3 307.7L20.5 308.1L19.1 308.4L18.0 308.0" fill="none" stroke="#2a1a1a" stroke-width="0.5" stroke-opacity="0.42"/>
<path d="M51.0 342.5L49.7 343.0L48.0 344.0L45.8 344.5L43.6 345.4L42.1 345.9L40.4 346.2L38.8 346.9L37.0 347.2L35.2 347.1L33.5 348.0L31.8 347.2L30.0 347.4L28.4 346.3L26.7 345.8L24.9 345.7L23.6 344.7L21.3 344.1L19.0 344.0L17.3 343.0L16.0 342.5" fill="none" stroke="#2a1a1a" stroke-width="0.5" stroke-opacity="0.42"/>
<path d="M73.5 283.0L73.6 284.1L73.5 285.6L73.3 287.4L73.9 289.4L73.7 291.4L73.5 293.3L73.1 294.9L73.6 296.9L73.0 298.6L72.1 300.2L71.1 301.7L70.7 303.3L71.4 304.9L71.1 306.8L72.4 308.3L73.1 310.1L74.2 311.7L75.9 313.0L75.5 315.1L76.1 316.7L76.2 318.5L75.5 320.3L75.4 322.3L74.2 324.0L73.9 325.8L73.9 327.6L73.3 329.5L72.6 331.4L71.8 333.2L71.9 335.1L71.7 336.5L71.0 337.5" fill="none" stroke="#2a1a1a" stroke-width="0.5" stroke-opacity="0.42"/>
<path d="M73.5 295.0L74.7 295.2L76.2 295.6L78.2 296.0L80.2 296.7L82.3 297.0L84.3 296.9L86.0 297.4L87.7 296.8L89.4 296.5L91.1 296.0L92.9 296.1L94.4 295.2L96.0 295.0L97.6 295.6L99.2 296.0L101.0 296.3L102.7 296.6L104.3 297.3L106.0 297.4L107.7 297.9L109.2 296.7L111.0 296.6L112.7 296.4L114.4 295.7L116.0 295.1L117.9 294.5L119.6 293.1L121.8 292.6L123.6 291.8L124.7 290.2L126.0 290.0" fill="none" stroke="#2a1a1a" stroke-width="0.5" stroke-opacity="0.42"/>
<path d="M106.0 297.5L106.7 298.5L106.6 300.2L107.6 301.8L107.5 303.9L108.6 305.7L108.2 307.5L108.6 309.3L107.3 310.8L106.7 312.5L106.8 314.5L105.9 316.0L106.3 317.5L106.6 319.3L107.4 321.2L109.3 322.4L110.4 323.8L111.0 325.0" fill="none" stroke="#2a1a1a" stroke-width="0.5" stroke-opacity="0.42"/>
<path d="M14.0 365.0L15.1 364.9L16.6 364.5L18.4 365.1L20.4 364.8L22.4 364.4L24.3 364.4L26.0 365.2L27.9 365.0L29.4 366.1L31.1 366.5L32.7 366.9L34.3 367.7L36.0 367.6L37.7 367.5L39.5 367.2L41.3 366.8L42.9 366.2L44.6 365.8L45.9 364.9L47.4 363.9L48.1 362.0L49.2 360.3L50.5 358.6L50.8 356.6L51.2 355.0L51.0 352.7L50.4 350.5L48.9 348.9L48.5 347.5" fill="none" stroke="#2a1a1a" stroke-width="0.5" stroke-opacity="0.42"/>
<path d="M46.0 365.0L46.5 366.1L46.4 367.8L47.2 369.6L47.4 371.7L47.5 373.7L48.9 374.8L49.8 376.6L51.0 378.3L52.8 378.9L53.5 380.0" fill="none" stroke="#2a1a1a" stroke-width="0.5" stroke-opacity="0.42"/>
</g>
<path d="M66.8 114.5L68.6 114.6L70.8 115.1L72.9 115.7L74.5 116.0L76.0 116.6L77.9 116.5L79.3 117.5L80.7 118.8L82.4 119.8L83.9 121.1L85.7 121.4L87.7 122.2L89.8 122.2L91.8 122.7L93.3 123.2L95.0 123.2L96.5 124.0L98.1 124.6L99.5 125.8L101.2 126.5L103.1 126.9L104.1 128.2L105.8 129.3L106.3 131.1L107.6 131.7L109.0 131.6L110.9 131.7L112.7 130.8L114.8 130.6L116.9 131.2L118.9 131.3L120.9 131.3L122.4 132.5L124.0 133.0L125.6 134.3L127.2 135.9L127.1 137.7L127.6 139.6L127.6 141.7L128.0 143.6L129.1 145.3L129.8 146.9L130.7 148.7L131.2 150.2L131.7 151.9L132.0 153.7L132.2 155.4L133.0 157.6L132.7 159.8L133.4 161.7L134.2 163.3L134.9 165.1L136.4 165.8L138.3 165.7L140.6 165.4L142.8 165.0L144.7 163.5L147.0 163.0L148.9 161.3L151.1 160.8L153.1 159.5L154.3 159.0L155.8 160.0L157.7 160.1L159.3 160.7L161.5 160.6L163.7 160.9L165.7 161.5L167.6 163.1L169.8 163.5L171.5 164.3L173.4 164.7L174.8 165.1L176.3 166.1L177.1 168.0L178.0 170.0L178.8 172.1L180.2 173.7L181.1 175.4L183.1 175.8L185.5 175.5L186.9 174.0L189.1 173.4L190.4 171.7L192.6 170.7L194.8 170.1L196.7 169.9L198.8 169.1L201.0 169.3L203.0 168.9L204.9 168.7L207.0 168.9L208.8 169.0L210.7 169.4L212.6 169.9L214.2 170.9L215.8 171.8L217.6 172.0L219.2 172.8L220.4 174.3L222.1 175.1L223.8 176.2L225.4 177.1L226.8 178.1L228.9 178.2L230.9 177.3L233.0 176.9L235.3 177.1L237.4 178.4L239.2 177.7L240.3 176.9L241.2 175.3L241.4 173.3L242.6 172.0L244.2 170.9L245.7 169.8L247.8 169.0L249.1 167.8L250.9 167.4L252.6 166.5L254.5 166.4L256.0 165.4L257.7 165.1L259.3 165.1L260.8 164.7L262.3 164.6L264.3 163.8L266.4 163.5L268.5 163.7L270.1 163.8L271.7 164.2L273.3 164.9L274.9 165.3L276.6 166.2L278.2 167.4L279.9 168.1L281.8 168.0L283.6 168.1L285.1 168.7L285.9 170.5L286.0 172.9L286.0 175.1L286.8 176.8L288.2 178.0L289.2 179.4L291.3 180.1L293.5 180.4L295.9 180.7L297.5 181.4L297.7 183.2L296.5 185.3L295.4 187.2L293.5 188.5L291.4 189.5L289.3 190.5L287.6 191.1L285.6 190.9L283.9 191.6L282.1 192.9L281.4 195.0L280.7 196.4L280.9 198.2L280.9 200.0L281.8 202.2L282.8 204.4L284.5 205.9L286.0 207.5L287.5 208.7L288.2 210.4L288.8 212.5L289.0 214.6L288.9 216.7L288.0 218.7L288.4 221.0L289.2 223.0L289.7 225.0L290.0 227.0L290.0 228.7L289.2 230.6L288.5 232.5L286.5 233.8L284.8 235.1L283.6 236.9L281.9 238.4L280.5 239.8L279.1 241.3L278.2 242.9L275.9 244.0L274.7 244.8L273.1 245.4L271.4 246.4L269.7 247.2L268.4 248.0L267.3 249.1L266.0 250.2L265.1 251.7L263.7 252.7L262.3 253.4L260.8 254.2L259.6 255.4L258.0 255.9L256.6 256.8L255.4 258.0L253.5 258.6L251.9 259.7L250.3 260.6L248.6 261.3L246.9 262.0L245.2 263.0L243.6 263.8L242.0 264.7L240.2 265.2L238.5 266.1L236.8 266.8L235.2 267.6L233.6 268.7L231.7 269.1L230.4 270.6L228.6 271.1L226.9 271.9L225.2 272.6L223.6 273.7L221.7 274.2L220.4 275.4L219.2 276.7L217.5 277.5L216.3 278.9L214.7 279.7L213.6 280.7L211.8 281.5L210.1 281.9L208.6 282.7L207.3 283.8L205.8 284.5L204.5 285.6L203.3 286.9L202.2 288.1L200.9 289.0L199.7 290.7L198.4 292.2L197.6 294.1L197.2 295.7L197.0 297.5L196.1 298.9L196.1 300.6L194.7 302.4L192.7 303.5L191.3 304.0L189.8 304.9L188.0 305.0L186.3 305.3L184.8 306.3L183.1 306.8L181.6 307.5L180.2 307.9L177.6 307.9L176.4 308.6L174.7 308.4L172.9 308.8L171.1 309.4L169.3 310.0L167.5 309.8L166.0 310.6L164.3 311.1L162.7 311.6L160.9 311.5L159.3 312.3L157.7 312.9L156.0 313.2L154.4 313.9L152.7 313.9L151.0 314.5L149.4 315.0L147.6 315.0L145.9 315.3L144.4 316.4L142.6 316.4L141.0 316.9L139.2 316.8L137.6 317.3L136.1 318.2L134.4 318.7L132.8 319.5L130.9 319.5L129.4 320.7L127.7 321.2L126.0 321.9L124.3 322.5L122.6 323.1L120.9 323.7L119.4 324.7L117.5 324.7L115.9 325.4L114.2 325.6L112.6 326.2L111.1 326.7L109.3 327.2L107.8 328.0L106.3 328.8L104.7 329.2L103.2 329.8L101.7 330.6L100.1 330.8L98.5 331.0L96.8 331.2L95.3 331.8L93.8 332.6L92.4 333.7L90.5 333.8L89.0 334.9L87.4 335.6L85.9 336.4L84.4 337.4L83.1 338.4L81.6 339.4L80.9 340.8L79.9 342.1L78.6 343.2L77.9 345.0L76.7 346.1L75.1 347.1L74.2 348.8L72.5 349.6L71.4 350.9L70.3 352.4L69.4 353.7L68.1 354.6L67.0 355.8L66.4 357.6L65.1 359.0L64.1 360.4L63.5 361.5L64.2 362.5L65.7 362.5L67.4 363.2L69.4 365.5L70.9 366.8L71.9 368.4L73.4 369.5L74.8 369.9L76.1 371.9L76.2 373.7L74.9 375.1L73.4 376.1L71.6 377.0L69.6 378.1L67.5 379.3L65.6 379.6L64.2 380.8L62.2 381.0L60.0 381.1L58.1 381.5L56.0 382.1L54.0 382.2L52.1 381.8L50.4 382.6L48.8 382.7L47.0 384.3L45.7 386.3L44.6 387.5L44.4 389.3L43.6 390.7L41.2 392.8L39.4 392.8L37.7 391.9L36.9 390.1L35.9 388.2L34.4 386.4L32.2 385.2L31.0 384.2L29.4 383.6L28.0 382.7L26.5 382.1L25.1 381.1L23.6 380.7L22.1 379.3L21.6 377.3L20.7 375.8L20.5 374.0L19.4 372.3L18.4 370.6L16.0 368.6L14.3 367.6L12.8 366.6L15.2 364.6L17.2 363.5L19.4 362.7L20.7 360.7L21.1 358.3L21.1 356.4L20.8 354.2L20.6 352.0L19.7 350.0L19.7 347.8L19.4 345.8L19.2 343.7L20.1 341.7L20.1 339.5L20.6 337.4L21.4 335.4L21.2 333.3L21.4 331.6L20.5 330.1L19.8 328.6L19.5 326.9L18.3 325.5L18.2 323.6L17.1 322.1L17.0 320.7L19.5 319.0L20.6 318.0L21.9 316.7L23.3 315.4L24.8 314.7L25.7 313.2L26.9 311.9L27.5 310.2L28.9 309.3L29.9 308.0L30.8 306.7L31.7 305.2L32.3 303.6L32.5 301.7L32.7 299.7L32.6 297.8L33.1 296.0L32.5 294.1L31.9 292.3L30.9 290.7L30.8 289.0L30.5 287.2L30.8 285.5L31.2 283.8L31.8 282.3L32.2 280.5L32.8 278.9L33.7 277.4L35.0 276.0L36.1 274.4L37.7 273.1L38.0 271.1L38.7 269.0L38.1 267.3L37.6 265.3L36.4 263.6L34.6 262.8L32.8 261.5L32.0 260.1L30.9 258.4L30.4 256.4L30.2 254.6L30.8 253.0L31.7 251.6L33.1 250.5L33.8 248.8L35.1 247.6L36.6 246.4L38.1 245.2L39.6 244.2L41.1 242.9L42.7 241.8L43.9 240.3L45.6 240.0L47.1 238.9L48.7 238.7L50.0 236.7L51.4 234.8L53.3 233.7L55.3 232.7L55.1 230.9L55.5 229.1L54.9 227.6L53.6 225.8L52.7 224.4L53.0 223.1L54.4 221.8L55.7 220.3L56.9 219.4L57.9 218.3L59.2 217.3L60.6 215.8L60.8 214.2L61.3 212.6L61.9 210.9L62.3 209.1L63.1 207.4L63.5 205.7L63.5 204.1L64.1 202.0L64.9 200.2L65.5 198.6L65.6 197.0L66.1 194.8L67.2 192.6L66.8 190.9L67.3 189.3L68.4 187.6L68.6 185.7L68.6 183.9L69.3 182.3L70.0 180.6L69.8 178.8L69.8 177.2L69.7 175.8L69.4 173.7L69.3 171.6L68.5 170.3L68.1 168.6L66.8 167.2L66.6 165.4L66.5 163.5L67.0 161.6L67.1 159.6L67.7 157.9L68.5 156.2L69.2 154.6L69.7 152.9L70.2 150.9L71.5 148.9L70.7 146.8L70.3 145.2L69.1 143.7L67.9 142.1L66.5 140.6L65.9 138.9L65.1 137.2L64.8 135.4L64.5 133.5L63.8 132.0L63.5 130.1L62.7 128.4L62.4 126.6L62.7 124.8L62.7 122.9L63.0 120.9L63.2 119.0L63.8 117.5L65.1 115.6Z" fill="none" stroke="#3a3a3a" stroke-width="0.9"/>
<path d="M63 382.8C62.9 383.2 61.4 385.6 60.9 386.1C60.4 386.7 58.4 387.9 57.6 388.3C56.8 388.7 53.9 390.1 53.2 390.2C52.5 390.3 50.7 389.3 50.5 389C50.3 388.7 51 387.4 51.5 387.2C52 386.9 54.6 386.8 55.4 386.5C56.1 386.2 58.3 385 59 384.5C59.7 384 61.6 382 62 381.8C62.4 381.6 63.1 382.4 63 382.8Z" fill="none" stroke="#3a3a3a" stroke-width="0.7"/>
<path d="M180 161C180.4 160.5 181.7 160.1 182.3 160.3C182.9 160.5 183.4 161.4 183.6 162.2C183.8 162.9 183.8 164.2 183.4 164.8C183 165.4 181.6 165.8 181 165.6C180.4 165.3 179.8 164.1 179.6 163.3C179.4 162.5 179.6 161.5 180 161Z" fill="none" stroke="#3a3a3a" stroke-width="0.7"/>
<path d="M192.9 304 L194.6 300.5 L197.3 295.5 L200.2 290.8" fill="none" stroke="#1e1e1e" stroke-width="1.5" stroke-linecap="round"/>
</g>
<rect x="11.6" y="107" width="287.6" height="294.2" fill="none" stroke="#8a8a8a" stroke-width="1.4"/>
<clipPath id="fr1"><rect x="325.6" y="107" width="287.6" height="294.2"/></clipPath>
<clipPath id="cat1"><path d="M380.8 114.4C381.7 114.2 385.8 115.1 387 115.4C388.2 115.7 392 116.9 393.3 117.5C394.6 118.1 398.4 121.2 399.6 121.7C400.9 122.2 404.6 122.4 405.8 122.7C407 123 410.8 124.3 412 124.8C413.2 125.3 417.4 127.3 418.3 128C419.2 128.7 420.7 131.7 421.5 132C422.3 132.3 425.6 131.1 426.7 131C427.8 130.9 431.9 130.8 433 131C434.1 131.2 437.2 132.5 438 133C438.8 133.5 440.6 134.9 441 136C441.4 137.1 442 142.2 442.3 143.5C442.6 144.8 444 147.6 444.4 148.8C444.8 149.9 446 154.1 446.2 155.4C446.5 156.7 446.9 160.7 447.3 161.7C447.7 162.7 449.5 165.5 450.4 165.8C451.3 166.1 455.7 165.1 456.7 164.8C457.7 164.5 460 163.1 460.8 162.7C461.6 162.3 464.4 160.9 465 160.6C465.6 160.2 466.2 159.2 467 159.2C467.8 159.2 472 160.3 473.3 160.6C474.6 160.8 478.6 161.4 479.6 161.7C480.6 162 482.8 163.4 483.8 163.8C484.7 164.1 488.3 164.4 489 164.8C489.7 165.2 490.6 167.3 491 168C491.4 168.7 492.6 171.3 493 172C493.4 172.7 494.6 174.9 495.2 175.2C495.8 175.5 498.5 175.5 499.4 175.2C500.3 174.9 503.7 172.5 504.6 172C505.5 171.5 507.7 170.3 508.8 170C509.8 169.7 513.8 169.1 515 169C516.2 168.9 519.7 168.8 521 169C522.3 169.2 526.9 170.3 528.3 170.8C529.7 171.3 533.4 173.3 534.6 174C535.9 174.7 539.6 177.7 540.8 178C542 178.3 545.8 177 547 177C548.2 177 552.3 178.5 553.3 178C554.2 177.5 555.7 172.8 556.5 171.9C557.3 171 560.4 169.4 561.7 168.8C563.1 168.1 568.5 166.1 570 165.6C571.5 165.1 575 164.4 576.2 164.2C577.5 164 581.2 163.4 582.5 163.5C583.8 163.6 587.6 165.2 588.8 165.6C589.9 166 593 167.4 594 167.7C595 168 598.4 168 599 168.8C599.6 169.5 599.8 174 600.2 175C600.6 176 602.6 178.7 603.3 179.2C604 179.7 606.7 180 607.5 180.2C608.3 180.4 611.4 180.7 611.7 181.2C612 181.8 611 184.7 610.6 185.4C610.2 186.1 608.2 188 607.5 188.5C606.8 189 604.2 190.3 603.3 190.6C602.3 190.9 598.8 191.3 598 191.7C597.2 192.1 595.3 194 595 194.8C594.7 195.6 594.8 199.1 595 200C595.2 200.9 596.5 203.5 597 204.2C597.5 204.9 599.7 206.7 600.2 207.3C600.7 207.9 602 209.7 602.3 210.4C602.6 211.1 603.3 213.8 603.3 214.6C603.3 215.4 602.3 217.9 602.3 218.8C602.3 219.6 603.1 222.2 603.3 223C603.5 223.8 604.5 226.1 604.4 227C604.3 227.9 602.8 231.5 602.3 232.3C601.8 233.1 599.6 234.8 599 235.4C598.4 236 596.7 237.8 596 238.5C595.3 239.2 592.6 242.1 592 242.7C591.4 243.3 590.8 243.7 590 244.2C589.2 244.7 585 246.5 583.8 247.3C582.5 248.1 579 251.5 577.5 252.5C576 253.5 570.9 256.8 569.2 257.7C567.5 258.6 562.5 261.1 560.8 261.9C559.1 262.7 554.2 265.2 552.5 266C550.8 266.8 545.9 269.4 544.2 270.2C542.5 271 537.5 273.4 535.8 274.4C534.1 275.4 529 279.7 527.5 280.6C526 281.5 522.5 282.9 521.2 283.8C520 284.6 515.9 288 515 289C514.1 290 512.4 293.1 511.9 294.2C511.4 295.3 510.3 299.5 509.8 300.4C509.3 301.3 507.6 303 506.7 303.5C505.8 304 501.6 305.2 500.4 305.6C499.1 306 495.1 307.4 494.2 307.7C493.3 308 492.8 308.1 491.7 308.3C490.6 308.5 485 309.4 483.3 309.8C481.6 310.2 476.7 311.5 475 311.9C473.3 312.3 468.4 313.6 466.7 314C465 314.4 460 315.6 458.3 316C456.6 316.4 451.7 317.5 450 318C448.3 318.5 443.4 320.6 441.7 321.2C440 321.9 435 323.9 433.3 324.4C431.6 324.9 426.5 326 425 326.5C423.5 327 420 328.9 418.8 329.4C417.5 329.8 413.8 330.6 412.5 331C411.2 331.4 407.5 332.8 406.2 333.3C405 333.9 401 335.9 400 336.5C399 337.1 396.6 338.8 395.8 339.6C395 340.4 392.7 343.7 391.7 344.8C390.7 345.9 386.5 349.9 385.5 351C384.5 352.1 382.1 354.9 381.3 356C380.5 357.1 377.8 360.8 377.5 361.5C377.2 362.2 377.7 362.4 378.1 362.6C378.5 362.8 380.8 362.8 381.4 363.1C381.9 363.4 383.2 364.8 383.6 365.3C384 365.9 385.3 368.2 385.8 368.6C386.3 369 388.6 369.4 389 369.7C389.4 370 390.2 371.3 390.2 371.9C390.2 372.4 389.4 374.6 389 375.2C388.6 375.8 386.6 377 385.8 377.4C385 377.8 382.2 378.7 381.4 379C380.6 379.3 378.8 380.4 378.1 380.6C377.4 380.9 375 381.4 374 381.5C373 381.6 369.1 381.9 368 382C366.9 382.1 363.7 382.4 362.8 382.8C361.9 383.2 360 385.3 359.5 386.1C359 386.9 357.8 389.8 357.4 390.5C357 391.2 355.8 392.6 355.2 392.7C354.6 392.8 352.4 392 351.9 391.6C351.3 391.2 350.2 389 349.7 388.3C349.1 387.6 347.2 385.6 346.4 385C345.6 384.4 342.9 383.2 342 382.8C341.1 382.4 338.3 381.1 337.7 380.6C337.1 380.1 335.8 378.1 335.5 377.4C335.2 376.7 334.7 374.7 334.4 374C334.1 373.3 332.6 371.3 332.2 370.8C331.8 370.3 330.5 369 330 368.6C329.5 368.2 327.1 367.1 327 366.7C326.9 366.3 328.6 365 329.2 364.6C329.8 364.2 332.7 363.1 333.3 362.5C333.9 361.9 335.3 359.4 335.4 358.3C335.5 357.2 334.6 353.2 334.4 352C334.2 350.8 333.3 347 333.3 345.8C333.3 344.6 334.2 340.9 334.4 339.6C334.6 338.4 335.5 334.6 335.4 333.3C335.3 332 333.7 328.2 333.3 327C332.9 325.8 331.2 321.6 331.2 320.8C331.2 320 332.7 319.3 333.3 318.8C333.9 318.2 336.7 316.4 337.5 315.6C338.3 314.8 340.9 311.4 341.7 310.4C342.5 309.4 345.3 306.6 345.8 305.2C346.3 303.8 346.9 297.6 346.8 296C346.7 294.4 344.6 290.4 344.5 289C344.4 287.6 345.2 283.3 345.6 282.2C346 281.1 347.4 278.5 348 277.6C348.6 276.7 350.9 274 351.4 273C351.8 272 352.6 268.1 352.5 267.2C352.4 266.3 350.8 264.4 350.2 263.8C349.6 263.2 347.4 262.4 346.8 261.5C346.2 260.6 344.4 255.8 344.5 254.6C344.6 253.3 347.1 250 348 249C348.9 248 352.6 245.2 353.7 244.3C354.8 243.4 358.5 240.3 359.4 239.7C360.3 239.1 361.9 238.9 362.5 238.4C363.1 237.9 364.7 235.3 365.3 234.7C365.9 234.1 368.6 233.2 369 232.5C369.4 231.8 369.2 228.3 369 227.5C368.8 226.7 366.4 225.1 366.5 224.4C366.6 223.7 369.2 221.5 370 220.6C370.8 219.7 373.5 217.2 374.3 215.6C375.1 214 377.2 206.1 377.8 204.2C378.3 202.3 379.2 198.2 379.5 197C379.8 195.8 380.4 193.8 380.8 192.5C381.2 191.2 382.7 185.7 383 184C383.3 182.3 384 177 384 175.8C384 174.6 383.3 172.7 383 171.7C382.7 170.7 380.9 166.8 380.8 165.4C380.7 164 381.6 159.2 381.9 158C382.2 156.8 383.7 154.1 384 153C384.3 151.9 385.3 148 385 146.7C384.7 145.4 381.5 141.9 380.8 140.4C380.1 138.9 378.1 133.6 377.7 132C377.3 130.4 376.7 126.2 376.7 124.8C376.7 123.3 377.3 118.5 377.7 117.5C378.1 116.5 379.9 114.6 380.8 114.4Z"/><path d="M377 382.8C376.9 383.2 375.4 385.6 374.9 386.1C374.4 386.7 372.4 387.9 371.6 388.3C370.8 388.7 367.9 390.1 367.2 390.2C366.5 390.3 364.7 389.3 364.5 389C364.3 388.7 365 387.4 365.5 387.2C366 386.9 368.6 386.8 369.4 386.5C370.1 386.2 372.3 385 373 384.5C373.7 384 375.6 382 376 381.8C376.4 381.6 377.1 382.4 377 382.8Z"/><path d="M494 161C494.4 160.5 495.7 160.1 496.3 160.3C496.9 160.5 497.4 161.4 497.6 162.2C497.8 162.9 497.8 164.2 497.4 164.8C497 165.4 495.6 165.8 495 165.6C494.4 165.3 493.8 164.1 493.6 163.3C493.4 162.5 493.6 161.5 494 161Z"/></clipPath>
<g clip-path="url(#fr1)">
<rect x="325.6" y="107" width="287.6" height="294.2" fill="#f4f4f4"/>
<path d="M324 105L589 105L589 125L589.3 145L590 153L593.5 160L597.5 165.5L599 168.8L600.2 175L603.3 179.2L607.5 180.2L611.7 181.2L610.6 185.4L607.5 188.5L603.3 190.6L598 191.7L595 194.8L595 200L597 204.2L600.2 207.3L602.3 210.4L603.3 214.6L602.3 218.8L603.3 223L604.4 227L602.3 232.3L599 235.4L596 238.5L592 242.7L590 244.2L583.8 247.3L577.5 252.5L569.2 257.7L560.8 261.9L552.5 266L544.2 270.2L535.8 274.4L527.5 280.6L521.2 283.8L515 289L511.9 294.2L509.8 300.4L506.7 303.5L500.4 305.6L494.2 307.7L491.7 308.3L483.3 309.8L475 311.9L466.7 314L458.3 316L450 318L441.7 321.2L433.3 324.4L425 326.5L418.8 329.4L412.5 331L406.2 333.3L400 336.5L395.8 339.6L391.7 344.8L385.5 351L381.3 356L377.5 361.5L378.1 362.6L381.4 363.1L383.6 365.3L385.8 368.6L389 369.7L390.2 371.9L389 375.2L385.8 377.4L381.4 379L378.1 380.6L374 381.5L368 382L362.8 382.8L359.5 386.1L357.4 390.5L355.2 392.7L351.9 391.6L349.7 388.3L346.4 385L342 382.8L337.7 380.6L335.5 377.4L334.4 374L332.2 370.8L330 368.6L327 366.7L331 371L336 378L341 386L346 393L351 402L324 402Z" fill="#e2e4e4"/>
<path d="M324 105L589 105L589 125L589.3 145L590 153L593.5 160L597.5 165.5L599 168.8L600.2 175L603.3 179.2L607.5 180.2L611.7 181.2L610.6 185.4L607.5 188.5L603.3 190.6L598 191.7L595 194.8L595 200L597 204.2L600.2 207.3L602.3 210.4L603.3 214.6L602.3 218.8L603.3 223L604.4 227L602.3 232.3L599 235.4L596 238.5L592 242.7L590 244.2L583.8 247.3L577.5 252.5L569.2 257.7L560.8 261.9L552.5 266L544.2 270.2L535.8 274.4L527.5 280.6L521.2 283.8L515 289L511.9 294.2L509.8 300.4L506.7 303.5L500.4 305.6L494.2 307.7L491.7 308.3L483.3 309.8L475 311.9L466.7 314L458.3 316L450 318L441.7 321.2L433.3 324.4L425 326.5L418.8 329.4L412.5 331L406.2 333.3L400 336.5L395.8 339.6L391.7 344.8L385.5 351L381.3 356L377.5 361.5L378.1 362.6L381.4 363.1L383.6 365.3L385.8 368.6L389 369.7L390.2 371.9L389 375.2L385.8 377.4L381.4 379L378.1 380.6L374 381.5L368 382L362.8 382.8L359.5 386.1L357.4 390.5L355.2 392.7L351.9 391.6L349.7 388.3L346.4 385L342 382.8L337.7 380.6L335.5 377.4L334.4 374L332.2 370.8L330 368.6L327 366.7L331 371L336 378L341 386L346 393L351 402L324 402Z" fill="#fff" filter="url(#relief)" mask="url(#rmask)"/>
<g clip-path="url(#cat1)">
<rect x="325.6" y="107" width="287.6" height="294.2" fill="#297400"/>
<path d="M360 110C371.7 91.2 415.8 110.8 430 115C444.2 119.2 438.3 129.2 445 135C451.7 140.8 457.5 146.7 470 150C482.5 153.3 511.3 151.7 520 155C528.7 158.3 523.7 167.2 522 170C520.3 172.8 513.7 171 510 172C506.3 173 502.8 174.5 500 176C497.2 177.5 496 179 493 181C490 183 484.5 185.5 482 188C479.5 190.5 478.3 193.2 478 196C477.7 198.8 481 202.2 480 205C479 207.8 473.8 209.8 472 213C470.2 216.2 470.2 219.5 469 224C467.8 228.5 467.3 235.3 465 240C462.7 244.7 459.2 248.7 455 252C450.8 255.3 445 257 440 260C435 263 429.2 268.2 425 270C420.8 271.8 417.8 272 415 271C412.2 270 410.3 266.5 408 264C405.7 261.5 404.5 259.5 401 256C397.5 252.5 392 246.8 387 243C382 239.2 375.5 235.5 371 233C366.5 230.5 361.8 248.5 360 228C358.2 207.5 348.3 128.8 360 110Z" fill="#72a800"/>
<path d="M365 140C374.7 127.2 406.7 138 420 138C433.3 138 436.7 137.7 445 140C453.3 142.3 462.2 149 470 152C477.8 155 488.7 155.7 492 158C495.3 160.3 492.3 163.7 490 166C487.7 168.3 482 171.3 478 172C474 172.7 469.3 169.3 466 170C462.7 170.7 458.7 173.3 458 176C457.3 178.7 461 182.7 462 186C463 189.3 464.3 193.3 464 196C463.7 198.7 460.8 199.5 460 202C459.2 204.5 459.2 206.7 459 211C458.8 215.3 460.7 222.7 459 228C457.3 233.3 453 239 449 243C445 247 440 249.3 435 252C430 254.7 423.8 258 419 259C414.2 260 409.2 259.5 406 258C402.8 256.5 403.3 254.5 400 250C396.7 245.5 390.5 235.8 386 231C381.5 226.2 377 223.7 373 221C369 218.3 363.3 228.5 362 215C360.7 201.5 355.3 152.8 365 140Z" fill="#9ae800"/>
<path d="M436.7 155C437.7 154.4 441.6 154.2 443.3 156.7C445 159.2 446.1 165.6 446.7 170C447.3 174.4 447.3 179.4 446.7 183.3C446.1 187.2 444.4 190.5 443.3 193.3C442.2 196.1 441.4 199.4 440 200C438.6 200.6 435.8 198.4 435 196.7C434.2 195 434.2 192.8 435 190C435.8 187.2 439.2 183.6 440 180C440.8 176.4 440.4 171.6 440 168.3C439.6 165 438.1 162.2 437.5 160C436.9 157.8 435.7 155.6 436.7 155Z" fill="#72a800"/>
<path d="M463.3 178.3C467.5 175.5 475.8 171.9 480 170C484.2 168.1 486.1 165.3 488.3 166.7C490.5 168.1 493 175.5 493.3 178.3C493.6 181.1 492.2 181.6 490 183.3C487.8 185 481.9 186.4 480 188.3C478.1 190.2 478.3 192.5 478.3 195C478.3 197.5 480.8 200.8 480 203.3C479.2 205.8 475.5 208.1 473.3 210C471.1 211.9 468.6 213.3 466.7 215C464.8 216.7 463.1 221.4 461.7 220C460.3 218.6 458.9 210.9 458.3 206.7C457.7 202.5 458.9 198.3 458.3 195C457.8 191.7 454.2 189.5 455 186.7C455.8 183.9 459.1 181.1 463.3 178.3Z" fill="#72a800"/>
<path d="M372 138C376 135.7 385.3 133.3 390 131C394.7 128.7 396.7 125.8 400 124C403.3 122.2 406.7 120 410 120C413.3 120 416.7 123.3 420 124C423.3 124.7 425.7 123.3 430 124C434.3 124.7 442.7 123.3 446 128C449.3 132.7 450.8 147.3 450 152C449.2 156.7 443.7 155.7 441 156C438.3 156.3 435.5 153.7 434 154C432.5 154.3 432.2 156 432 158C431.8 160 433.3 162.7 433 166C432.7 169.3 431.8 175.5 430 178C428.2 180.5 424.5 181.2 422 181C419.5 180.8 416.8 179.5 415 177C413.2 174.5 412 169.5 411 166C410 162.5 410.3 158.2 409 156C407.7 153.8 405 153 403 153C401 153 398.5 154.2 397 156C395.5 157.8 394.7 160.3 394 164C393.3 167.7 393 173.3 393 178C393 182.7 393.2 188 394 192C394.8 196 395.3 199.7 398 202C400.7 204.3 406.3 205.3 410 206C413.7 206.7 416.3 206.8 420 206C423.7 205.2 426.8 200.7 432 201C437.2 201.3 447.5 204.7 451 208C454.5 211.3 453.7 216.2 453 221C452.3 225.8 450.5 232.5 447 237C443.5 241.5 436.8 245.7 432 248C427.2 250.3 422.7 251 418 251C413.3 251 408.3 250.5 404 248C399.7 245.5 395.7 239.7 392 236C388.3 232.3 386 229.7 382 226C378 222.3 370.7 227.5 368 214C365.3 200.5 365.3 157.7 366 145C366.7 132.3 368 140.3 372 138Z" fill="#cef6b6"/>
<path d="M372 140C374.8 138 381.7 138 385 138C388.3 138 389.5 141.7 392 140C394.5 138.3 397 130.7 400 128C403 125.3 406.7 124 410 124C413.3 124 416.7 127.3 420 128C423.3 128.7 426 127.3 430 128C434 128.7 441.2 128.3 444 132C446.8 135.7 447.7 146.7 447 150C446.3 153.3 442.5 152 440 152C437.5 152 434 149.5 432 150C430 150.5 428.5 152.5 428 155C427.5 157.5 429.2 161.8 429 165C428.8 168.2 428.2 172 427 174C425.8 176 423.5 177.2 422 177C420.5 176.8 419 175 418 173C417 171 416.7 168 416 165C415.3 162 415 157.8 414 155C413 152.2 412 149.3 410 148C408 146.7 404.7 146.5 402 147C399.3 147.5 396 149.2 394 151C392 152.8 391 154.8 390 158C389 161.2 388.5 165.5 388 170C387.5 174.5 387 180.3 387 185C387 189.7 387.2 194.3 388 198C388.8 201.7 389.2 204.8 392 207C394.8 209.2 400.3 210.3 405 211C409.7 211.7 415.2 212 420 211C424.8 210 430.1 205 434 205C437.9 205 441.5 208 443.5 211C445.5 214 446.6 219.3 446 223C445.4 226.7 442.5 230.1 440 233C437.5 235.9 434.5 238.6 431 240.5C427.5 242.4 422.9 244.2 418.8 244.5C414.6 244.8 409.5 243.9 406 242C402.5 240.1 401 236.7 397.5 233C394 229.3 389.6 223.8 385 220C380.4 216.2 372.8 221.7 370 210C367.2 198.3 367.7 161.7 368 150C368.3 138.3 369.2 142 372 140Z" fill="#ffffff"/>
<path d="M405 186C406.7 183.7 411.3 183.5 414 184C416.7 184.5 419.7 186.7 421 189C422.3 191.3 422.7 195.3 422 198C421.3 200.7 419.3 203.8 417 205C414.7 206.2 410.2 206.2 408 205C405.8 203.8 404.5 201.2 404 198C403.5 194.8 403.3 188.3 405 186Z" fill="#72a800"/>
<path d="M400 161.7C400 162.3 399.7 163.1 399.3 163.5C398.9 163.9 398.1 164.2 397.5 164.2C396.9 164.2 396.1 163.9 395.7 163.5C395.3 163.1 395 162.3 395 161.7C395 161.1 395.3 160.3 395.7 159.9C396.1 159.5 396.9 159.2 397.5 159.2C398.1 159.2 398.9 159.5 399.3 159.9C399.7 160.3 400 161.1 400 161.7Z" fill="#72a800"/>
<path d="M460 199C460 200 459.5 201.3 458.8 202C458.1 202.7 456.8 203.2 455.8 203.2C454.8 203.2 453.5 202.7 452.8 202C452.1 201.3 451.6 200 451.6 199C451.6 198 452.1 196.7 452.8 196C453.5 195.3 454.8 194.8 455.8 194.8C456.8 194.8 458.1 195.3 458.8 196C459.5 196.7 460 198 460 199Z" fill="#cef6b6"/>
<path d="M458.3 199C458.3 199.6 458 200.4 457.6 200.8C457.2 201.2 456.4 201.5 455.8 201.5C455.2 201.5 454.4 201.2 454 200.8C453.6 200.4 453.3 199.6 453.3 199C453.3 198.4 453.6 197.6 454 197.2C454.4 196.8 455.2 196.5 455.8 196.5C456.4 196.5 457.2 196.8 457.6 197.2C458 197.6 458.3 198.4 458.3 199Z" fill="#ffffff"/>
<path d="M459 163C461.2 161.2 469.2 160.8 473 161C476.8 161.2 481 162 482 164C483 166 481.3 170.8 479 173C476.7 175.2 471.2 177.2 468 177C464.8 176.8 461.5 174.3 460 172C458.5 169.7 456.8 164.8 459 163Z" fill="#cef6b6"/>
<path d="M463 163C464.8 162 470.5 161.5 473 162C475.5 162.5 477.8 164.5 478 166C478.2 167.5 476 170 474 171C472 172 468 172.5 466 172C464 171.5 462.5 169.5 462 168C461.5 166.5 461.2 164 463 163Z" fill="#ffffff"/>
<path d="M412.5 221C412.5 221.9 411.9 223.2 411 223.8C410.2 224.5 408.7 225 407.5 225C406.3 225 404.8 224.5 404 223.8C403.1 223.2 402.5 221.9 402.5 221C402.5 220.1 403.1 218.8 404 218.2C404.8 217.5 406.3 217 407.5 217C408.7 217 410.2 217.5 411 218.2C411.9 218.8 412.5 220.1 412.5 221Z" fill="#fff5b4"/>
<path d="M370 110C376.7 100.5 404.8 115.3 412 118C419.2 120.7 413.3 123.7 413 126C412.7 128.3 411.3 129.7 410 132C408.7 134.3 406.7 137 405 140C403.3 143 401.8 147 400 150C398.2 153 396 155.5 394 158C392 160.5 389.8 162.8 388 165C386.2 167.2 384.7 169.3 383 171C381.3 172.7 379.8 174.3 378 175C376.2 175.7 373.3 185.8 372 175C370.7 164.2 363.3 119.5 370 110Z" fill="#fff5b4"/>
<path d="M372 110C376.8 103 397.8 115.2 403 118C408.2 120.8 403.5 124 403 127C402.5 130 401.2 133.2 400 136C398.8 138.8 397.5 141.5 396 144C394.5 146.5 392.7 149 391 151C389.3 153 387.7 154.8 386 156C384.3 157.2 383 157.3 381 158C379 158.7 375.5 168 374 160C372.5 152 367.2 117 372 110Z" fill="#f6d072"/>
<path d="M372 110C374.7 108 387.2 113.7 391 116C394.8 118.3 394.2 121.2 395 124C395.8 126.8 396.2 130.3 396 133C395.8 135.7 395 137.9 394 140C393 142.1 391.2 144.2 390 145.5C388.8 146.8 387.8 148.2 386.5 148C385.2 147.8 383.4 145.7 382 144C380.6 142.3 379.2 140.7 378 138C376.8 135.3 376 132.7 375 128C374 123.3 369.3 112 372 110Z" fill="#d4883e"/>
<path d="M437.2 138.3C437.2 139.8 436.2 141.8 434.9 142.9C433.5 144 431.1 144.8 429.2 144.8C427.3 144.8 424.9 144 423.5 142.9C422.2 141.8 421.2 139.8 421.2 138.3C421.2 136.8 422.2 134.8 423.5 133.7C424.9 132.6 427.3 131.8 429.2 131.8C431.1 131.8 433.5 132.6 434.9 133.7C436.2 134.8 437.2 136.8 437.2 138.3Z" fill="#fff5b4"/>
<path d="M434.2 138.3C434.2 139.2 433.6 140.5 432.7 141.1C431.9 141.8 430.4 142.3 429.2 142.3C428 142.3 426.5 141.8 425.7 141.1C424.8 140.5 424.2 139.2 424.2 138.3C424.2 137.4 424.8 136.1 425.7 135.5C426.5 134.8 428 134.3 429.2 134.3C430.4 134.3 431.9 134.8 432.7 135.5C433.6 136.1 434.2 137.4 434.2 138.3Z" fill="#f6d072"/>
<path d="M342 255C342.4 251.1 349.1 245 352.5 242.5C355.9 240 360.2 238.3 362.5 240C364.8 241.7 366.2 248.3 366 252.5C365.8 256.7 363.7 262.8 361 265C358.3 267.2 353.2 267.7 350 266C346.8 264.3 341.6 258.9 342 255Z" fill="#72a800"/>
<path d="M480 274C479.4 275.8 477.9 277.6 476.2 278.7C474.5 279.7 471.9 280.4 469.7 280.3C467.5 280.2 464.8 279.4 462.9 278.2C461.1 277 459.3 275 458.5 273.2C457.6 271.4 457.5 269 458 267.2C458.6 265.4 460.1 263.6 461.8 262.5C463.5 261.5 466.1 260.8 468.3 260.9C470.5 261 473.2 261.8 475.1 263C476.9 264.2 478.7 266.2 479.5 268C480.4 269.8 480.5 272.2 480 274Z" fill="#72a800"/>
<path d="M430.6 279.5C430.6 280.2 430.2 281 429.8 281.5C429.3 281.9 428.5 282.3 427.8 282.3C427.1 282.3 426.3 281.9 425.8 281.5C425.4 281 425 280.2 425 279.5C425 278.8 425.4 278 425.8 277.5C426.3 277.1 427.1 276.7 427.8 276.7C428.5 276.7 429.3 277.1 429.8 277.5C430.2 278 430.6 278.8 430.6 279.5Z" fill="#72a800"/>
<path d="M476.2 307.5C476.2 308.6 475.5 310 474.5 310.8C473.6 311.5 471.8 312.1 470.5 312.1C469.2 312.1 467.4 311.5 466.5 310.8C465.5 310 464.8 308.6 464.8 307.5C464.8 306.4 465.5 305 466.5 304.2C467.4 303.5 469.2 302.9 470.5 302.9C471.8 302.9 473.6 303.5 474.5 304.2C475.5 305 476.2 306.4 476.2 307.5Z" fill="#72a800"/>
<path d="M525 150C509.2 153.3 524.2 164.6 525 170C525.8 175.4 530 178.3 530 182.5C530 186.7 526.7 192.1 525 195C523.3 197.9 520.4 196.7 520 200C519.6 203.3 520.8 210 522.5 215C524.2 220 528.3 225 530 230C531.7 235 533.8 240.8 532.5 245C531.2 249.2 525.8 252.5 522.5 255C519.2 257.5 515.1 257.8 512.5 260C509.9 262.2 508.4 265.3 507 268C505.6 270.7 504.3 273.2 504 276C503.7 278.8 504.5 282.3 505 285C505.5 287.7 507.3 290 507 292C506.7 294 504.8 296.2 503 297C501.2 297.8 498.3 297.7 496 297C493.7 296.3 491.3 294.5 489 293C486.7 291.5 484.3 288.5 482 288C479.7 287.5 476.7 288.5 475 290C473.3 291.5 472.2 294.3 472 297C471.8 299.7 473.3 301.3 474 306C474.7 310.7 451.7 332.7 476 325C500.3 317.3 596 289.2 620 260C644 230.8 635.8 168.3 620 150C604.2 131.7 540.8 146.7 525 150Z" fill="#0c4c02"/>
<path d="M493 282.5C493 282.9 492.6 283.6 492.2 283.8C491.9 284 491.1 284 490.8 283.8C490.4 283.6 490 282.9 490 282.5C490 282.1 490.4 281.4 490.8 281.2C491.1 281 491.9 281 492.2 281.2C492.6 281.4 493 282.1 493 282.5Z" fill="#0c4c02"/>
<path d="M494 253C495.7 252.2 498.5 252.5 500 254C501.5 255.5 502.5 259 503 262C503.5 265 503.8 269.7 503 272C502.2 274.3 499.8 276.7 498 276C496.2 275.3 493.3 270.8 492 268C490.7 265.2 489.7 261.5 490 259C490.3 256.5 492.3 253.8 494 253Z" fill="#0c4c02"/>
<path d="M488.8 294.5C488.8 296 487.9 297.9 486.8 298.9C485.7 299.9 483.6 300.7 482 300.7C480.4 300.7 478.3 299.9 477.2 298.9C476.1 297.9 475.2 296 475.2 294.5C475.2 293 476.1 291.1 477.2 290.1C478.3 289.1 480.4 288.3 482 288.3C483.6 288.3 485.7 289.1 486.8 290.1C487.9 291.1 488.8 293 488.8 294.5Z" fill="#0c4c02"/>
<path d="M449.1 308C449.1 308.7 448.8 309.6 448.3 310.1C447.9 310.6 447.1 311 446.5 311C445.9 311 445.1 310.6 444.7 310.1C444.2 309.6 443.9 308.7 443.9 308C443.9 307.3 444.2 306.4 444.7 305.9C445.1 305.4 445.9 305 446.5 305C447.1 305 447.9 305.4 448.3 305.9C448.8 306.4 449.1 307.3 449.1 308Z" fill="#0c4c02"/>
<path d="M472 185C472 185.5 471.7 186.1 471.4 186.4C471.1 186.7 470.5 187 470 187C469.5 187 468.9 186.7 468.6 186.4C468.3 186.1 468 185.5 468 185C468 184.5 468.3 183.9 468.6 183.6C468.9 183.3 469.5 183 470 183C470.5 183 471.1 183.3 471.4 183.6C471.7 183.9 472 184.5 472 185Z" fill="#0c4c02"/>
<path d="M320 362C321.7 355.8 327.5 365.8 330 362.5C332.5 359.2 332.9 347.1 335 342.5C337.1 337.9 339.2 337.1 342.5 335C345.8 332.9 351.2 332.1 355 330C358.8 327.9 362.1 325.8 365 322.5C367.9 319.2 370.4 314.6 372.5 310C374.6 305.4 375.8 298.8 377.5 295C379.2 291.2 381.1 289.3 382.5 287.5C383.9 285.7 384.3 284 386 284C387.7 284 389.3 285.7 392.5 287.5C395.7 289.3 400.4 293.9 405 295C409.6 296.1 415.8 293.2 420 294C424.2 294.8 428.8 297.8 430 300C431.2 302.2 430 305.8 427.5 307.5C425 309.2 418.8 308.3 415 310C411.2 311.7 407.5 314.2 405 317.5C402.5 320.8 401.2 325.4 400 330C398.8 334.6 401.3 333.3 398 345C394.7 356.7 393 390.8 380 400C367 409.2 330 406.3 320 400C310 393.7 318.3 368.2 320 362Z" fill="#0c4c02"/>
<path d="M430.5 301C430.5 302.5 429.8 304.5 428.9 305.6C428 306.7 426.3 307.5 425 307.5C423.7 307.5 422 306.7 421.1 305.6C420.2 304.5 419.5 302.5 419.5 301C419.5 299.5 420.2 297.5 421.1 296.4C422 295.3 423.7 294.5 425 294.5C426.3 294.5 428 295.3 428.9 296.4C429.8 297.5 430.5 299.5 430.5 301Z" fill="#0c4c02"/>
<path d="M375 305C377.6 302.8 383.8 300.8 387.5 301.5C391.2 302.2 395.8 304.2 397.5 309C399.2 313.8 398.8 324 398 330C397.2 336 393.3 341.3 393 345C392.7 348.7 396.2 346.2 396 352C395.8 357.8 403 372.8 392 380C381 387.2 342 396.7 330 395C318 393.3 320 374.8 320 370C320 365.2 327.9 367.3 330 366C332.1 364.7 330 363.4 332.5 362C335 360.6 340.4 359.1 345 357.5C349.6 355.9 355.7 355 360 352.5C364.3 350 368.7 346.2 371 342.5C373.3 338.8 373.8 334.6 374 330C374.2 325.4 371.8 319.2 372 315C372.2 310.8 372.4 307.2 375 305Z" fill="#0050b4"/>
<path d="M380 310C381.9 308.2 386.8 306.7 389 307.5C391.2 308.3 393.1 311.2 393.5 315C393.9 318.8 392.8 325.2 391.5 330C390.2 334.8 388.1 339.5 386 344C383.9 348.5 379.3 354 379 357C378.7 360 382.3 360.2 384 362C385.7 363.8 388.2 366 389 368C389.8 370 390.1 372.4 389 374C387.9 375.6 385.7 376.6 382.5 377.5C379.3 378.4 373.3 378.9 370 379.5C366.7 380.1 365 379.4 362.5 381C360 382.6 357.9 388.3 355 389C352.1 389.7 347.8 386.8 345 385C342.2 383.2 339.7 380.3 338 378C336.3 375.7 333.8 373.5 335 371C336.2 368.5 340.4 365.2 345 363C349.6 360.8 357.7 360.3 362.5 357.5C367.3 354.7 371.2 350.6 374 346C376.8 341.4 378.4 334.7 379 330C379.6 325.3 377.3 321.3 377.5 318C377.7 314.7 378.1 311.8 380 310Z" fill="#0a78d6"/>
<path d="M554.6 173.8C555.5 172.3 558 171 560.8 169.6C563.6 168.2 568.5 165.8 571.2 165.4C574 165.1 576.1 165.4 577.5 167.5C578.9 169.6 579.6 174.4 579.6 177.9C579.6 181.4 578.5 185.9 577.5 188.3C576.5 190.7 575 192.5 573.3 192.5C571.5 192.5 569.1 190.1 567 188.3C564.9 186.6 562.7 183.7 560.8 182C558.9 180.3 556.6 179.4 555.6 178C554.6 176.6 553.7 175.2 554.6 173.8Z" fill="#0050b4"/>
<path d="M572 179C572 179.4 571.6 180.1 571.2 180.3C570.9 180.5 570.1 180.5 569.8 180.3C569.4 180.1 569 179.4 569 179C569 178.6 569.4 177.9 569.8 177.7C570.1 177.5 570.9 177.5 571.2 177.7C571.6 177.9 572 178.6 572 179Z" fill="#0a78d6"/>
<path d="M549.2 197.5C549.2 199.1 548.6 201.3 547.8 202.4C547 203.6 545.6 204.5 544.5 204.5C543.4 204.5 542 203.6 541.2 202.4C540.4 201.3 539.8 199.1 539.8 197.5C539.8 195.9 540.4 193.7 541.2 192.6C542 191.4 543.4 190.5 544.5 190.5C545.6 190.5 547 191.4 547.8 192.6C548.6 193.7 549.2 195.9 549.2 197.5Z" fill="#0050b4"/>
<path d="M562 248C562 249.1 561.3 250.4 560.3 251.2C559.2 252.1 557.5 252.9 555.8 253.2C554.1 253.6 551.9 253.6 550.2 253.2C548.5 252.9 546.8 252.1 545.7 251.2C544.7 250.4 544 249.1 544 248C544 246.9 544.7 245.6 545.7 244.8C546.8 243.9 548.5 243.1 550.2 242.8C551.9 242.4 554.1 242.4 555.8 242.8C557.5 243.1 559.2 243.9 560.3 244.8C561.3 245.6 562 246.9 562 248Z" fill="#0050b4"/>
<path d="M524.3 267.5C524.3 268.3 523.9 269.4 523.3 270C522.8 270.6 521.8 271.1 521 271.1C520.2 271.1 519.2 270.6 518.7 270C518.1 269.4 517.7 268.3 517.7 267.5C517.7 266.7 518.1 265.6 518.7 265C519.2 264.4 520.2 263.9 521 263.9C521.8 263.9 522.8 264.4 523.3 265C523.9 265.6 524.3 266.7 524.3 267.5Z" fill="#0050b4"/>
<path d="M512 281C513.2 279.7 515.5 278 517 278C518.5 278 520.5 279.3 521 281C521.5 282.7 521 285.8 520 288C519 290.2 516.5 293.3 515 294C513.5 294.7 511.8 293.3 511 292C510.2 290.7 509.8 287.8 510 286C510.2 284.2 510.8 282.3 512 281Z" fill="#0050b4"/>
<path d="M542 180C542 180.6 541.4 181.4 540.5 181.8C539.7 182.2 538.2 182.5 537 182.5C535.8 182.5 534.3 182.2 533.5 181.8C532.6 181.4 532 180.6 532 180C532 179.4 532.6 178.6 533.5 178.2C534.3 177.8 535.8 177.5 537 177.5C538.2 177.5 539.7 177.8 540.5 178.2C541.4 178.6 542 179.4 542 180Z" fill="#0050b4"/>
<path d="M534 214.5C534 215 533.6 215.8 533.2 216.1C532.9 216.3 532.1 216.3 531.8 216.1C531.4 215.8 531 215 531 214.5C531 214 531.4 213.2 531.8 212.9C532.1 212.7 532.9 212.7 533.2 212.9C533.6 213.2 534 214 534 214.5Z" fill="#0050b4"/>
<path d="M612 185C612 186.3 611.2 188 610.2 188.9C609.2 189.8 607.4 190.5 606 190.5C604.6 190.5 602.8 189.8 601.8 188.9C600.8 188 600 186.3 600 185C600 183.7 600.8 182 601.8 181.1C602.8 180.2 604.6 179.5 606 179.5C607.4 179.5 609.2 180.2 610.2 181.1C611.2 182 612 183.7 612 185Z" fill="#297400"/>
<path d="M583.8 221.7C584.8 217.5 587.9 210.1 590 207C592.1 203.9 594.2 202.5 596.2 203C598.3 203.5 600.9 206.8 602.5 210C604.1 213.2 605.8 218 606 222C606.2 226 606 231.3 604 234C602 236.7 596.9 237.2 594.2 238.3C591.5 239.4 589.7 241.5 588 240.4C586.3 239.3 584.5 235.1 583.8 232C583 228.9 582.7 225.9 583.8 221.7Z" fill="#297400"/>
<path d="M598.3 220C598.8 218.3 601 218.6 602 219.6C603 220.6 603.8 223.9 604 226C604.2 228.1 604.3 231.3 603.5 232C602.7 232.7 599.9 232 599 230C598.1 228 597.8 221.7 598.3 220Z" fill="#72a800"/>
</g>
<g clip-path="url(#cat1)">
<path d="M381.5 140.0L382.8 140.3L384.6 141.0L386.8 141.2L388.8 142.4L390.6 142.8L392.6 143.0L394.3 142.6L395.8 143.1L397.3 143.1L399.3 143.6L400.9 144.9L402.3 145.0" fill="none" stroke="#2a1a1a" stroke-width="0.5" stroke-opacity="0.28"/>
<path d="M409.8 125.0L409.4 126.1L408.6 127.6L408.5 129.6L407.8 131.6L407.2 133.3L407.0 135.4L406.0 137.3L405.3 139.1L404.5 140.7L404.1 142.7L402.9 143.8L402.7 145.0L402.5 146.7L403.6 148.4L405.2 149.8L405.2 151.8L406.1 153.3L407.2 155.1L407.6 156.5L408.5 158.1L409.0 159.8L408.8 161.7L409.4 163.3L409.3 165.1L409.1 166.9L409.0 168.6L408.2 170.0L407.8 171.8L406.8 173.3L406.5 175.0L405.6 176.6L404.9 178.3L403.9 179.9L403.2 181.7L402.5 183.4L401.1 184.8L400.2 186.2L399.4 187.8L398.8 189.9L398.9 191.4L398.7 192.9L398.5 194.6L398.6 196.3L397.8 198.1L398.1 200.0L397.7 201.8L398.3 203.7L397.9 205.9L398.2 207.9L399.2 209.7L399.2 211.3L399.0 212.5" fill="none" stroke="#2a1a1a" stroke-width="0.5" stroke-opacity="0.28"/>
<path d="M404.8 150.0L403.9 150.8L402.9 152.1L402.1 153.9L401.1 155.3L399.7 156.3L398.7 157.6L397.2 158.6L396.3 159.9L395.4 161.6L394.6 163.2L393.8 165.0L394.0 166.7L393.6 168.5L393.7 170.3L392.8 171.6L393.3 173.8L392.1 174.8L391.1 176.1L389.0 175.6L387.0 175.8L384.6 175.4L383.0 175.0" fill="none" stroke="#2a1a1a" stroke-width="0.5" stroke-opacity="0.28"/>
<path d="M443.0 158.0L441.9 158.4L440.6 159.2L438.9 159.9L437.6 161.5L435.8 162.5L434.3 163.6L432.9 164.4L431.1 165.2L430.1 166.8L428.6 167.7L427.8 169.2L426.7 170.5L425.6 172.0L424.3 173.6L423.6 175.5L423.4 177.4L422.5 178.9L421.7 180.7L420.3 181.8L419.7 183.9L419.4 185.5L419.2 187.2L419.1 189.2L418.7 191.2L418.7 193.1L419.2 195.0L418.8 196.8L419.4 198.5L419.4 200.3L419.9 201.9L420.1 203.5L420.1 205.0L419.7 206.8L419.2 208.5L418.6 210.2L417.1 211.2L416.3 212.3L414.9 213.5L413.7 214.5L411.5 214.9L410.1 214.6L408.3 215.0L406.6 214.1L404.6 213.8L402.5 213.6L400.7 213.1L399.0 212.5L397.1 212.4L395.5 211.9L393.9 211.6L392.2 211.5L390.6 211.6L389.0 211.0L387.2 211.1L385.3 210.9L383.3 210.7L381.6 210.4L380.0 210.5L379.0 210.0" fill="none" stroke="#2a1a1a" stroke-width="0.5" stroke-opacity="0.28"/>
<path d="M461.5 165.0L461.6 166.1L462.1 167.6L462.3 169.5L463.4 171.2L463.9 173.2L463.8 175.0L464.1 176.7L464.7 178.3L464.5 180.0L464.9 181.7L464.6 183.4L465.4 185.0L465.3 186.7L464.6 188.3L465.0 190.0L465.1 191.7L464.5 193.3L464.9 195.0L465.7 196.6L465.8 198.3L466.3 200.1L467.3 201.6L467.3 203.4L468.1 205.0L467.9 206.7L467.9 208.4L467.4 210.1L466.3 211.6L466.6 213.3L466.0 215.0L466.8 216.7L467.1 218.4L467.5 220.1L468.2 221.7L469.2 223.3L468.9 225.0L468.7 226.6L468.8 228.4L468.5 230.1L467.2 231.6L467.0 233.3L466.8 235.1L466.1 236.7L465.9 238.4L465.0 239.9L464.8 241.7L464.8 243.4L463.7 244.9L464.0 246.7L463.4 248.2L463.2 249.8L462.1 251.2L462.3 253.1L461.5 255.0L461.6 256.6L460.9 258.3L460.4 260.2L460.2 262.1L460.0 264.1L459.7 265.9L459.4 267.6L459.1 268.9L459.0 270.0" fill="none" stroke="#2a1a1a" stroke-width="0.5" stroke-opacity="0.28"/>
<path d="M420.0 184.0L421.1 184.0L422.0 185.3L423.7 185.5L424.9 187.0L427.0 187.0L428.3 188.6L430.0 189.3L431.3 190.3L432.7 191.4L434.6 191.9L435.9 193.1L437.0 194.5L438.6 195.2L440.1 196.1L441.6 196.7L443.1 197.8L444.9 198.2L446.7 198.4L448.6 197.9L450.5 198.6L452.3 198.1L454.0 197.7L455.7 197.7L457.6 197.3L459.3 196.4L461.2 196.3L462.7 195.6L464.0 195.4L465.0 195.0" fill="none" stroke="#2a1a1a" stroke-width="0.5" stroke-opacity="0.28"/>
<path d="M465.0 185.0L466.0 184.7L467.4 184.4L469.1 184.0L470.9 183.5L472.8 183.4L474.7 182.6L476.5 182.6L478.2 181.7L480.0 181.7L481.9 181.5L483.7 181.0L485.6 181.4L487.3 180.9L489.0 181.3L490.9 181.5L492.8 180.9L494.6 181.7L496.3 181.9L497.7 182.2L499.2 182.1L500.7 183.7L501.3 185.4L501.7 187.5L501.4 189.0L500.7 190.5L499.9 192.3L498.6 193.9L498.3 195.8L497.8 197.5L497.6 199.2L497.5 200.9L498.5 202.5L499.1 204.1L498.5 205.9L498.7 207.5L498.5 209.2L498.5 210.9L498.4 212.7L498.0 214.5L497.3 216.0L496.5 217.5L496.1 219.4L494.6 220.7L493.6 222.2L493.1 224.0L491.3 224.8L490.2 226.2L488.5 227.1L487.3 228.5L485.6 229.1L484.0 230.0L482.4 230.2L480.7 230.6L478.8 231.1L477.0 230.9L475.4 230.6L474.0 230.1L472.2 229.1L470.9 227.5L469.9 225.9L469.0 225.0" fill="none" stroke="#2a1a1a" stroke-width="0.5" stroke-opacity="0.28"/>
<path d="M501.5 187.5L502.7 187.6L504.2 187.3L505.9 186.3L508.0 186.3L510.1 185.8L512.1 185.4L514.0 184.6L515.7 184.4L517.5 184.7L519.4 185.0L521.3 184.5L523.1 184.8L524.7 184.6L526.0 185.1L527.0 184.8" fill="none" stroke="#2a1a1a" stroke-width="0.5" stroke-opacity="0.28"/>
<path d="M527.0 172.0L526.8 173.0L527.1 174.4L527.2 176.0L526.9 177.8L526.8 179.7L526.9 181.6L526.9 183.3L527.2 184.8L527.6 186.9L527.7 188.9L528.7 190.6L528.8 192.4L528.9 194.0L528.4 195.8L527.4 197.4L527.3 199.3L527.3 200.8L527.4 202.2L528.6 203.3L530.2 204.1L531.2 205.6L532.4 206.9L533.6 208.0L535.2 208.9L536.3 210.3L537.6 211.4L537.5 213.3L538.7 214.6L538.2 216.3L537.9 218.2L537.3 220.1L536.6 222.1L535.8 223.7L535.4 225.6L535.1 227.3L534.7 229.0L533.8 230.7L533.0 232.4L533.5 234.4L532.6 236.2L532.1 238.1L531.8 240.1L530.8 241.4L529.4 242.3L528.4 243.6L527.1 244.8L525.8 245.7L524.9 247.0L523.1 247.6L521.9 248.6L520.7 249.5L519.4 250.5L517.6 251.0L516.1 251.8L514.5 253.0L513.0 254.3L511.2 255.1L509.8 255.8L508.6 256.0" fill="none" stroke="#2a1a1a" stroke-width="0.5" stroke-opacity="0.28"/>
<path d="M527.0 200.9L525.7 200.5L523.9 200.7L521.8 200.6L519.6 200.7L517.7 200.4L516.3 201.8L515.0 202.8L513.5 203.8L512.2 204.9L511.0 205.6L509.5 206.6L508.2 207.4L506.5 207.7L504.7 207.8L502.5 207.6L500.4 207.8L499.0 207.5" fill="none" stroke="#2a1a1a" stroke-width="0.5" stroke-opacity="0.28"/>
<path d="M506.5 207.5L506.9 208.7L507.6 210.5L508.2 212.5L509.5 213.7L509.9 215.5L510.2 217.4L510.5 219.2L510.7 220.9L510.6 222.9L509.8 224.8L508.6 226.5L509.0 228.5L508.2 230.3L507.1 231.8L507.1 233.5L506.8 235.1L506.0 236.9L504.7 238.2L504.1 240.1L503.0 241.3L501.6 242.4L500.1 243.5L499.0 245.0L498.1 246.6L496.6 247.6L495.7 249.3L494.2 250.4L492.4 251.0L490.4 251.1L488.5 252.0L486.4 252.3L485.2 253.7L483.7 254.7L482.3 255.9L480.4 256.4L478.8 257.2L477.0 258.6L474.9 259.3L473.0 260.1L471.5 260.0" fill="none" stroke="#2a1a1a" stroke-width="0.5" stroke-opacity="0.28"/>
<path d="M556.8 172.0L556.5 173.3L556.4 175.4L556.8 178.0L557.3 179.3L557.1 181.0L557.6 182.7L558.4 184.4L558.8 186.1L559.3 187.8L559.5 189.5L558.7 191.1L557.8 192.6L557.4 194.4L555.8 195.5L555.4 197.2L554.7 198.7L554.3 200.6L552.7 202.3L552.5 204.2L552.0 206.1L552.1 207.8L552.8 209.6L552.9 211.4L553.5 213.1L554.8 214.4L555.2 216.1L557.0 216.9L558.5 217.8L559.8 219.2L561.3 218.8L562.9 219.2L564.0 217.9L565.5 216.8L566.7 215.4L568.2 214.6L569.9 213.6L571.7 213.0L573.7 213.3L575.0 212.1L576.6 211.5L577.3 209.9L578.9 209.1L580.0 208.1L581.2 207.0L582.5 206.2L584.3 205.6L585.8 205.7L587.6 205.3L589.4 206.0L591.4 206.6L593.4 206.3L595.1 207.3L597.2 207.5L599.3 207.3L601.2 207.5L602.8 207.8L604.0 208.0" fill="none" stroke="#2a1a1a" stroke-width="0.5" stroke-opacity="0.28"/>
<path d="M559.0 189.4L560.2 189.7L561.6 190.5L562.6 192.4L564.7 192.7L566.2 193.7L567.4 195.0L569.0 195.5L570.2 196.8L571.9 197.2L572.4 198.8L573.8 200.2L574.1 202.4L574.1 204.6L574.7 206.5L575.1 207.8" fill="none" stroke="#2a1a1a" stroke-width="0.5" stroke-opacity="0.28"/>
<path d="M579.7 207.8L579.5 209.0L579.9 210.4L581.2 211.9L581.1 213.9L581.7 215.8L581.9 217.6L582.4 219.2L582.1 221.2L581.5 223.1L581.1 224.9L580.3 226.6L580.2 228.5L579.6 230.3L578.6 232.0L578.4 233.9L577.8 235.8L577.2 237.5L577.0 239.6L576.8 241.8L575.6 243.7L575.3 245.4L575.1 246.7" fill="none" stroke="#2a1a1a" stroke-width="0.5" stroke-opacity="0.28"/>
<path d="M554.5 214.6L553.8 215.7L553.7 217.7L552.3 219.5L552.6 221.9L552.0 223.8L552.9 225.3L552.8 227.1L554.1 228.5L554.5 230.4L555.5 231.9L556.6 233.2L558.1 234.0L559.4 235.3L561.0 236.2L563.1 236.0L564.5 237.0L565.8 238.0L567.8 238.7L569.7 239.1L571.4 239.5L572.8 240.4L574.5 239.0L576.4 238.6L577.4 237.6" fill="none" stroke="#2a1a1a" stroke-width="0.5" stroke-opacity="0.28"/>
<path d="M533.8 230.7L535.1 230.8L536.9 230.4L538.8 229.3L541.1 229.4L543.0 228.5L544.5 227.3L546.6 227.3L548.1 225.7L549.7 224.9L551.2 224.3L552.2 223.8" fill="none" stroke="#2a1a1a" stroke-width="0.5" stroke-opacity="0.28"/>
<path d="M504.0 242.2L505.2 241.8L506.9 241.7L508.9 242.0L511.1 241.5L513.1 242.5L514.7 242.9L516.8 242.9L518.5 244.2L520.4 244.9L522.1 245.7L523.4 246.7L524.6 246.7" fill="none" stroke="#2a1a1a" stroke-width="0.5" stroke-opacity="0.28"/>
<path d="M466.5 235.0L465.4 235.5L463.9 236.3L462.7 238.0L461.0 239.3L458.8 239.7L457.5 241.1L455.8 242.1L453.8 242.7L452.4 244.2L450.4 244.2L449.0 245.0L446.8 245.2L445.3 243.5L443.3 242.9L441.5 242.9L439.4 242.5L437.2 243.3L435.3 244.2L434.0 245.0" fill="none" stroke="#2a1a1a" stroke-width="0.5" stroke-opacity="0.28"/>
<path d="M441.5 242.5L442.1 243.5L441.9 245.1L442.7 246.8L443.2 248.7L443.2 250.9L443.7 253.0L444.3 254.9L444.4 256.6L444.3 258.5L445.3 260.3L445.6 262.3L446.0 264.1L446.1 266.0L446.5 267.6L445.9 269.1L446.5 270.0" fill="none" stroke="#2a1a1a" stroke-width="0.5" stroke-opacity="0.28"/>
<path d="M419.0 210.0L420.0 210.6L420.9 212.0L422.7 212.8L424.0 214.4L425.5 215.8L426.6 217.5L426.7 219.0L428.2 220.2L428.5 221.9L429.2 223.5L429.5 225.2L429.2 227.0L430.1 228.5L429.9 230.0L429.9 231.9L429.2 233.6L428.8 235.5L428.3 237.3L427.3 238.7L426.6 240.0L425.1 241.5L424.1 242.9L423.0 244.3L421.4 244.9L420.1 246.5L418.5 247.5L416.4 247.8L415.2 246.9L414.1 245.4L412.3 244.2L410.9 242.5L409.3 241.1L407.7 240.3L406.5 239.9L405.1 240.6L403.7 241.9L402.5 243.7L402.3 245.9L401.1 247.5L401.7 249.4L402.5 251.1L403.3 253.0L404.1 254.9L405.3 256.2L406.3 257.8L407.5 259.3L408.3 260.9L409.0 262.5L408.6 264.0L408.7 265.6L408.5 267.4L407.4 268.9L407.0 270.7L406.1 272.3L405.6 274.1L404.7 275.7L404.6 277.8L403.6 279.5L402.1 280.7L401.9 282.8L400.1 283.7L399.0 285.0L398.3 286.8L397.0 288.0L395.2 288.6L393.7 289.6L392.3 290.7L390.8 291.7L389.0 292.4L387.5 293.6L385.9 294.6L383.9 294.9L382.1 295.6L380.4 296.5L379.0 297.8L377.6 299.1L375.8 299.8L374.0 300.0L372.4 300.6L370.7 300.9L369.0 300.8L367.3 300.4L365.6 300.6L363.9 300.4L362.2 300.0L360.5 299.6L359.0 298.3L357.3 297.7L355.5 298.0L354.0 297.4L352.1 297.4L350.4 298.5L348.6 299.1L346.9 299.2L346.0 300.0" fill="none" stroke="#2a1a1a" stroke-width="0.5" stroke-opacity="0.28"/>
<path d="M401.5 245.0L400.6 245.5L399.3 246.1L397.6 245.9L396.0 246.7L394.1 247.2L392.1 247.5L390.1 247.8L388.2 248.0L386.7 249.1L385.0 249.1L383.8 249.6L381.8 251.4L380.6 252.5L379.7 253.5L378.7 255.0L379.0 256.4L379.2 258.1L379.8 259.9L380.8 261.5L381.4 263.3L381.9 265.0L381.5 266.8L380.1 268.2L379.3 269.9L378.2 271.5L377.3 273.3L376.3 274.9L375.6 276.7L374.5 278.4L374.4 280.5L373.3 282.0L372.8 283.7L371.7 284.9L370.7 287.1L370.7 289.0L370.0 290.0" fill="none" stroke="#2a1a1a" stroke-width="0.5" stroke-opacity="0.28"/>
<path d="M434.0 205.0L434.6 206.0L434.5 207.4L434.5 209.1L435.3 210.9L435.6 212.8L435.8 214.8L435.6 216.8L436.6 218.4L436.3 220.0L436.8 222.0L437.7 223.5L437.7 225.2L438.2 226.7L438.7 228.2L438.5 230.1L439.8 231.7L440.3 233.7L439.8 235.9L440.7 237.9L441.3 239.7L441.4 241.3L441.5 242.5" fill="none" stroke="#2a1a1a" stroke-width="0.5" stroke-opacity="0.28"/>
<path d="M444.0 257.5L443.9 258.9L443.4 260.7L442.2 262.6L441.5 265.0L440.5 266.2L440.0 268.0L438.6 269.2L437.2 270.5L436.3 272.2L434.8 273.4L433.7 274.8L432.9 276.5L432.0 278.2L430.2 279.0L429.4 280.7L428.2 282.0L426.4 282.3L424.8 282.9L423.2 283.3L421.4 283.5L419.8 284.5L418.2 284.9L416.6 285.3L414.5 285.5L413.2 287.4L411.5 288.5L410.3 289.7L409.0 290.0" fill="none" stroke="#2a1a1a" stroke-width="0.5" stroke-opacity="0.28"/>
<path d="M434.0 275.0L434.7 275.9L435.6 277.1L437.3 278.1L438.4 279.8L439.7 281.5L441.2 282.9L443.0 283.7L443.9 285.1L445.7 286.5L447.5 287.6L448.9 289.0L450.5 289.4L451.5 290.0" fill="none" stroke="#2a1a1a" stroke-width="0.5" stroke-opacity="0.28"/>
<path d="M458.4 235.0L457.9 236.2L457.0 237.9L456.2 240.0L455.8 242.2L456.2 244.2L456.1 245.9L457.3 247.3L458.3 248.8L459.4 250.2L460.0 251.9L461.0 253.2L461.5 255.2L461.6 257.1L461.9 258.8L462.8 260.3L464.4 261.0L465.7 262.1L467.0 263.2L468.4 264.3L469.8 265.1L471.6 265.5L473.3 265.8L475.1 265.3L476.8 264.9L478.0 264.0L479.4 263.1L480.7 262.0L482.2 261.2L483.7 260.3L485.1 259.4L486.4 258.4L487.9 257.5L489.1 256.5L490.7 255.8L491.7 254.5L493.0 253.3L494.1 252.0L494.5 250.3L494.7 248.8L494.8 247.1L494.8 244.9L494.0 243.0L493.0 241.2L493.1 239.6L493.2 237.5L494.6 236.2L495.1 235.0" fill="none" stroke="#2a1a1a" stroke-width="0.5" stroke-opacity="0.28"/>
<path d="M476.8 264.8L476.1 266.0L475.5 267.7L474.7 269.8L474.8 272.0L474.0 274.0L474.8 275.6L475.4 277.2L476.2 278.7L477.0 280.4L478.5 281.6L479.1 283.1L479.5 285.1L480.2 286.9L480.6 288.7L481.3 290.5L480.8 292.3L481.6 294.2L480.5 295.9L480.3 297.9L480.0 299.8L478.8 301.5L478.9 303.5L478.2 305.4L477.7 307.3L477.4 308.9L476.8 310.0" fill="none" stroke="#2a1a1a" stroke-width="0.5" stroke-opacity="0.28"/>
<path d="M435.5 278.6L436.9 278.5L438.5 277.7L440.4 277.0L442.3 276.6L444.0 276.8L446.0 276.4L447.8 277.6L449.8 277.8L451.4 278.8L453.4 279.1L455.1 279.8L456.7 280.4L458.4 281.0L460.0 281.8L461.5 282.6L463.5 282.6L465.3 283.5L467.1 283.7L469.3 283.3L471.4 282.9L473.2 283.2L474.5 283.2" fill="none" stroke="#2a1a1a" stroke-width="0.5" stroke-opacity="0.28"/>
<path d="M447.0 283.0L447.1 284.1L446.3 285.4L445.6 287.0L445.2 288.8L445.0 290.6L444.5 292.3L444.2 294.2L443.4 296.0L443.3 297.9L442.3 299.6L442.2 301.5L442.8 303.3L443.2 305.2L443.6 307.2L444.4 309.0L444.1 310.7L443.8 312.7L443.3 314.8L443.2 316.9L442.3 318.0" fill="none" stroke="#2a1a1a" stroke-width="0.5" stroke-opacity="0.28"/>
<path d="M481.3 292.3L482.2 291.6L483.7 290.9L484.9 289.3L486.8 288.8L488.1 287.6L490.0 287.0L491.7 285.9L493.5 285.5L495.1 285.3L496.9 285.6L498.3 286.7L499.7 287.7L500.0 289.3L500.9 290.8L501.7 292.5L501.9 294.6L502.5 296.4L503.4 298.5L503.5 300.7L504.5 302.4L504.3 303.8" fill="none" stroke="#2a1a1a" stroke-width="0.5" stroke-opacity="0.28"/>
<path d="M495.1 248.8L496.4 249.1L498.3 249.4L500.4 250.2L502.4 250.9L504.3 251.1L506.1 250.5L507.8 250.0L509.4 249.2L511.3 249.1L512.8 248.0L514.7 248.0L516.2 246.7L517.8 246.0L519.8 245.7L521.6 244.8L523.5 244.5L524.9 244.6L526.3 244.9L527.6 245.9L528.3 247.6L529.5 248.8L531.2 250.1L532.6 251.7L534.4 253.0L534.9 254.8L536.4 255.8L537.4 257.1L538.7 258.1L540.3 258.1L542.3 257.8L544.4 257.2L546.4 256.6L548.1 256.0L549.7 254.9L550.3 253.2L551.3 251.9L552.2 250.7L554.1 249.9L555.7 249.0L557.0 248.8" fill="none" stroke="#2a1a1a" stroke-width="0.5" stroke-opacity="0.28"/>
<path d="M488.2 258.0L487.8 259.0L488.6 260.5L488.3 262.2L487.6 264.1L487.9 266.0L488.5 267.8L488.4 269.4L488.1 271.5L488.9 273.3L489.8 275.1L489.5 277.1L490.8 278.4L491.2 280.3L492.3 281.9L493.5 283.3L494.1 284.9L495.1 285.5" fill="none" stroke="#2a1a1a" stroke-width="0.5" stroke-opacity="0.28"/>
<path d="M508.9 258.0L508.9 259.1L508.5 260.5L507.3 262.0L507.1 263.9L506.6 265.8L506.5 267.7L506.7 269.4L506.7 271.2L507.3 272.9L507.8 274.8L508.7 276.5L509.4 278.3L510.5 279.6L511.5 280.7L512.7 282.4L513.6 284.1L515.1 284.6L515.7 285.5" fill="none" stroke="#2a1a1a" stroke-width="0.5" stroke-opacity="0.28"/>
<path d="M529.5 248.8L530.2 249.7L530.4 251.2L531.0 252.9L530.9 254.9L531.4 256.8L531.4 258.6L532.2 260.2L531.5 261.9L531.3 263.7L530.3 265.2L529.2 266.6L528.6 268.3L527.4 269.6L526.0 270.6L525.0 271.8L523.9 273.2L522.5 274.0L521.1 275.0L520.7 276.6L518.9 277.6L517.9 279.3L517.2 281.0L516.6 282.4L515.7 283.2" fill="none" stroke="#2a1a1a" stroke-width="0.5" stroke-opacity="0.28"/>
<path d="M372.5 278.0L372.1 279.1L372.5 280.6L372.0 282.4L371.6 284.3L371.0 286.3L370.8 288.3L370.0 290.0L369.4 291.6L367.9 292.7L366.6 294.0L364.8 294.9L363.5 296.3L362.0 297.4L361.0 298.8L360.3 300.2L358.8 301.5L358.1 303.1L358.1 304.9L358.1 306.5L357.5 308.2L357.5 310.0L357.3 311.7L357.8 313.4L358.2 315.2L358.6 317.0L359.3 318.8L360.0 320.6L360.4 322.4L359.9 324.4L360.4 326.3L361.3 328.1L361.0 330.1L361.8 331.8L362.5 333.4L362.2 335.1L362.9 337.4L362.9 339.5L363.7 341.2L365.3 342.2L366.2 343.4L367.7 344.2L369.4 344.8L371.4 344.6L373.2 345.0L375.0 345.2L376.7 344.6L378.6 345.0L380.4 344.5L381.9 343.3L383.7 343.2L384.9 342.4L386.5 341.1L388.2 339.9L389.6 338.8L390.0 337.5" fill="none" stroke="#2a1a1a" stroke-width="0.5" stroke-opacity="0.28"/>
<path d="M360.0 300.0L358.9 300.5L357.2 301.1L355.8 302.6L353.8 303.6L352.0 304.7L350.1 305.4L348.5 306.1L346.7 306.4L344.9 306.5L343.1 306.4L341.5 307.0L340.0 307.6L338.2 307.8L336.3 307.7L334.5 308.1L333.1 308.4L332.0 308.0" fill="none" stroke="#2a1a1a" stroke-width="0.5" stroke-opacity="0.28"/>
<path d="M365.0 342.5L363.7 343.0L362.0 344.0L359.8 344.5L357.6 345.4L356.1 345.9L354.4 346.2L352.8 346.9L351.0 347.2L349.2 347.1L347.5 348.0L345.8 347.2L344.0 347.4L342.4 346.3L340.7 345.8L338.9 345.7L337.6 344.7L335.3 344.1L333.0 344.0L331.3 343.0L330.0 342.5" fill="none" stroke="#2a1a1a" stroke-width="0.5" stroke-opacity="0.28"/>
<path d="M387.5 283.0L387.6 284.1L387.5 285.6L387.3 287.4L387.9 289.4L387.7 291.4L387.5 293.3L387.1 294.9L387.6 296.9L387.0 298.6L386.1 300.2L385.1 301.7L384.7 303.3L385.4 304.9L385.1 306.8L386.4 308.3L387.1 310.1L388.2 311.7L389.9 313.0L389.5 315.1L390.1 316.7L390.2 318.5L389.5 320.3L389.4 322.3L388.2 324.0L387.9 325.8L387.9 327.6L387.3 329.5L386.6 331.4L385.8 333.2L385.9 335.1L385.7 336.5L385.0 337.5" fill="none" stroke="#2a1a1a" stroke-width="0.5" stroke-opacity="0.28"/>
<path d="M387.5 295.0L388.7 295.2L390.2 295.6L392.2 296.0L394.2 296.7L396.3 297.0L398.3 296.9L400.0 297.4L401.7 296.8L403.4 296.5L405.1 296.0L406.9 296.1L408.4 295.2L410.0 295.0L411.6 295.6L413.2 296.0L415.0 296.3L416.7 296.6L418.3 297.3L420.0 297.4L421.7 297.9L423.2 296.7L425.0 296.6L426.7 296.4L428.4 295.7L430.0 295.1L431.9 294.5L433.6 293.1L435.8 292.6L437.6 291.8L438.7 290.2L440.0 290.0" fill="none" stroke="#2a1a1a" stroke-width="0.5" stroke-opacity="0.28"/>
<path d="M420.0 297.5L420.7 298.5L420.6 300.2L421.6 301.8L421.5 303.9L422.6 305.7L422.2 307.5L422.6 309.3L421.3 310.8L420.7 312.5L420.8 314.5L419.9 316.0L420.3 317.5L420.6 319.3L421.4 321.2L423.3 322.4L424.4 323.8L425.0 325.0" fill="none" stroke="#2a1a1a" stroke-width="0.5" stroke-opacity="0.28"/>
<path d="M328.0 365.0L329.1 364.9L330.6 364.5L332.4 365.1L334.4 364.8L336.4 364.4L338.3 364.4L340.0 365.2L341.9 365.0L343.4 366.1L345.1 366.5L346.7 366.9L348.3 367.7L350.0 367.6L351.7 367.5L353.5 367.2L355.3 366.8L356.9 366.2L358.6 365.8L359.9 364.9L361.4 363.9L362.1 362.0L363.2 360.3L364.5 358.6L364.8 356.6L365.2 355.0L365.0 352.7L364.4 350.5L362.9 348.9L362.5 347.5" fill="none" stroke="#2a1a1a" stroke-width="0.5" stroke-opacity="0.28"/>
<path d="M360.0 365.0L360.5 366.1L360.4 367.8L361.2 369.6L361.4 371.7L361.5 373.7L362.9 374.8L363.8 376.6L365.0 378.3L366.8 378.9L367.5 380.0" fill="none" stroke="#2a1a1a" stroke-width="0.5" stroke-opacity="0.28"/>
</g>
<path d="M380.8 114.5L382.6 114.6L384.8 115.1L386.9 115.7L388.5 116.0L390.0 116.6L391.9 116.5L393.3 117.5L394.7 118.8L396.4 119.8L397.9 121.1L399.7 121.4L401.7 122.2L403.8 122.2L405.8 122.7L407.3 123.2L409.0 123.2L410.5 124.0L412.1 124.6L413.5 125.8L415.2 126.5L417.1 126.9L418.1 128.2L419.8 129.3L420.3 131.1L421.6 131.7L423.0 131.6L424.9 131.7L426.7 130.8L428.8 130.6L430.9 131.2L432.9 131.3L434.9 131.3L436.4 132.5L438.0 133.0L439.6 134.3L441.2 135.9L441.1 137.7L441.6 139.6L441.6 141.7L442.0 143.6L443.1 145.3L443.8 146.9L444.7 148.7L445.2 150.2L445.7 151.9L446.0 153.7L446.2 155.4L447.0 157.6L446.7 159.8L447.4 161.7L448.2 163.3L448.9 165.1L450.4 165.8L452.3 165.7L454.6 165.4L456.8 165.0L458.7 163.5L461.0 163.0L462.9 161.3L465.1 160.8L467.1 159.5L468.3 159.0L469.8 160.0L471.7 160.1L473.3 160.7L475.5 160.6L477.7 160.9L479.7 161.5L481.6 163.1L483.8 163.5L485.5 164.3L487.4 164.7L488.8 165.1L490.3 166.1L491.1 168.0L492.0 170.0L492.8 172.1L494.2 173.7L495.1 175.4L497.1 175.8L499.5 175.5L500.9 174.0L503.1 173.4L504.4 171.7L506.6 170.7L508.8 170.1L510.7 169.9L512.8 169.1L515.0 169.3L517.0 168.9L518.9 168.7L521.0 168.9L522.8 169.0L524.7 169.4L526.6 169.9L528.2 170.9L529.8 171.8L531.6 172.0L533.2 172.8L534.4 174.3L536.1 175.1L537.8 176.2L539.4 177.1L540.8 178.1L542.9 178.2L544.9 177.3L547.0 176.9L549.3 177.1L551.4 178.4L553.2 177.7L554.3 176.9L555.2 175.3L555.4 173.3L556.6 172.0L558.2 170.9L559.7 169.8L561.8 169.0L563.1 167.8L564.9 167.4L566.6 166.5L568.5 166.4L570.0 165.4L571.7 165.1L573.3 165.1L574.8 164.7L576.3 164.6L578.3 163.8L580.4 163.5L582.5 163.7L584.1 163.8L585.7 164.2L587.3 164.9L588.9 165.3L590.6 166.2L592.2 167.4L593.9 168.1L595.8 168.0L597.6 168.1L599.1 168.7L599.9 170.5L600.0 172.9L600.0 175.1L600.8 176.8L602.2 178.0L603.2 179.4L605.3 180.1L607.5 180.4L609.9 180.7L611.5 181.4L611.7 183.2L610.5 185.3L609.4 187.2L607.5 188.5L605.4 189.5L603.3 190.5L601.6 191.1L599.6 190.9L597.9 191.6L596.1 192.9L595.4 195.0L594.7 196.4L594.9 198.2L594.9 200.0L595.8 202.2L596.8 204.4L598.5 205.9L600.0 207.5L601.5 208.7L602.2 210.4L602.8 212.5L603.0 214.6L602.9 216.7L602.0 218.7L602.4 221.0L603.2 223.0L603.7 225.0L604.0 227.0L604.0 228.7L603.2 230.6L602.5 232.5L600.5 233.8L598.8 235.1L597.6 236.9L595.9 238.4L594.5 239.8L593.1 241.3L592.2 242.9L589.9 244.0L588.7 244.8L587.1 245.4L585.4 246.4L583.7 247.2L582.4 248.0L581.3 249.1L580.0 250.2L579.1 251.7L577.7 252.7L576.3 253.4L574.8 254.2L573.6 255.4L572.0 255.9L570.6 256.8L569.4 258.0L567.5 258.6L565.9 259.7L564.3 260.6L562.6 261.3L560.9 262.0L559.2 263.0L557.6 263.8L556.0 264.7L554.2 265.2L552.5 266.1L550.8 266.8L549.2 267.6L547.6 268.7L545.7 269.1L544.4 270.6L542.6 271.1L540.9 271.9L539.2 272.6L537.6 273.7L535.7 274.2L534.4 275.4L533.2 276.7L531.5 277.5L530.3 278.9L528.7 279.7L527.6 280.7L525.8 281.5L524.1 281.9L522.6 282.7L521.3 283.8L519.8 284.5L518.5 285.6L517.3 286.9L516.2 288.1L514.9 289.0L513.7 290.7L512.4 292.2L511.6 294.1L511.2 295.7L511.0 297.5L510.1 298.9L510.1 300.6L508.7 302.4L506.7 303.5L505.3 304.0L503.8 304.9L502.0 305.0L500.3 305.3L498.8 306.3L497.1 306.8L495.6 307.5L494.2 307.9L491.6 307.9L490.4 308.6L488.7 308.4L486.9 308.8L485.1 309.4L483.3 310.0L481.5 309.8L480.0 310.6L478.3 311.1L476.7 311.6L474.9 311.5L473.3 312.3L471.7 312.9L470.0 313.2L468.4 313.9L466.7 313.9L465.0 314.5L463.4 315.0L461.6 315.0L459.9 315.3L458.4 316.4L456.6 316.4L455.0 316.9L453.2 316.8L451.6 317.3L450.1 318.2L448.4 318.7L446.8 319.5L444.9 319.5L443.4 320.7L441.7 321.2L440.0 321.9L438.3 322.5L436.6 323.1L434.9 323.7L433.4 324.7L431.5 324.7L429.9 325.4L428.2 325.6L426.6 326.2L425.1 326.7L423.3 327.2L421.8 328.0L420.3 328.8L418.7 329.2L417.2 329.8L415.7 330.6L414.1 330.8L412.5 331.0L410.8 331.2L409.3 331.8L407.8 332.6L406.4 333.7L404.5 333.8L403.0 334.9L401.4 335.6L399.9 336.4L398.4 337.4L397.1 338.4L395.6 339.4L394.9 340.8L393.9 342.1L392.6 343.2L391.9 345.0L390.7 346.1L389.1 347.1L388.2 348.8L386.5 349.6L385.4 350.9L384.3 352.4L383.4 353.7L382.1 354.6L381.0 355.8L380.4 357.6L379.1 359.0L378.1 360.4L377.5 361.5L378.2 362.5L379.7 362.5L381.4 363.2L383.4 365.5L384.9 366.8L385.9 368.4L387.4 369.5L388.8 369.9L390.1 371.9L390.2 373.7L388.9 375.1L387.4 376.1L385.6 377.0L383.6 378.1L381.5 379.3L379.6 379.6L378.2 380.8L376.2 381.0L374.0 381.1L372.1 381.5L370.0 382.1L368.0 382.2L366.1 381.8L364.4 382.6L362.8 382.7L361.0 384.3L359.7 386.3L358.6 387.5L358.4 389.3L357.6 390.7L355.2 392.8L353.4 392.8L351.7 391.9L350.9 390.1L349.9 388.2L348.4 386.4L346.2 385.2L345.0 384.2L343.4 383.6L342.0 382.7L340.5 382.1L339.1 381.1L337.6 380.7L336.1 379.3L335.6 377.3L334.7 375.8L334.5 374.0L333.4 372.3L332.4 370.6L330.0 368.6L328.3 367.6L326.8 366.6L329.2 364.6L331.2 363.5L333.4 362.7L334.7 360.7L335.1 358.3L335.1 356.4L334.8 354.2L334.6 352.0L333.7 350.0L333.7 347.8L333.4 345.8L333.2 343.7L334.1 341.7L334.1 339.5L334.6 337.4L335.4 335.4L335.2 333.3L335.4 331.6L334.5 330.1L333.8 328.6L333.5 326.9L332.3 325.5L332.2 323.6L331.1 322.1L331.0 320.7L333.5 319.0L334.6 318.0L335.9 316.7L337.3 315.4L338.8 314.7L339.7 313.2L340.9 311.9L341.5 310.2L342.9 309.3L343.9 308.0L344.8 306.7L345.7 305.2L346.3 303.6L346.5 301.7L346.7 299.7L346.6 297.8L347.1 296.0L346.5 294.1L345.9 292.3L344.9 290.7L344.8 289.0L344.5 287.2L344.8 285.5L345.2 283.8L345.8 282.3L346.2 280.5L346.8 278.9L347.7 277.4L349.0 276.0L350.1 274.4L351.7 273.1L352.0 271.1L352.7 269.0L352.1 267.3L351.6 265.3L350.4 263.6L348.6 262.8L346.8 261.5L346.0 260.1L344.9 258.4L344.4 256.4L344.2 254.6L344.8 253.0L345.7 251.6L347.1 250.5L347.8 248.8L349.1 247.6L350.6 246.4L352.1 245.2L353.6 244.2L355.1 242.9L356.7 241.8L357.9 240.3L359.6 240.0L361.1 238.9L362.7 238.7L364.0 236.7L365.4 234.8L367.3 233.7L369.3 232.7L369.1 230.9L369.5 229.1L368.9 227.6L367.6 225.8L366.7 224.4L367.0 223.1L368.4 221.8L369.7 220.3L370.9 219.4L371.9 218.3L373.2 217.3L374.6 215.8L374.8 214.2L375.3 212.6L375.9 210.9L376.3 209.1L377.1 207.4L377.5 205.7L377.5 204.1L378.1 202.0L378.9 200.2L379.5 198.6L379.6 197.0L380.1 194.8L381.2 192.6L380.8 190.9L381.3 189.3L382.4 187.6L382.6 185.7L382.6 183.9L383.3 182.3L384.0 180.6L383.8 178.8L383.8 177.2L383.7 175.8L383.4 173.7L383.3 171.6L382.5 170.3L382.1 168.6L380.8 167.2L380.6 165.4L380.5 163.5L381.0 161.6L381.1 159.6L381.7 157.9L382.5 156.2L383.2 154.6L383.7 152.9L384.2 150.9L385.5 148.9L384.7 146.8L384.3 145.2L383.1 143.7L381.9 142.1L380.5 140.6L379.9 138.9L379.1 137.2L378.8 135.4L378.5 133.5L377.8 132.0L377.5 130.1L376.7 128.4L376.4 126.6L376.7 124.8L376.7 122.9L377.0 120.9L377.2 119.0L377.8 117.5L379.1 115.6Z" fill="none" stroke="#3a3a3a" stroke-width="0.9"/>
<path d="M377 382.8C376.9 383.2 375.4 385.6 374.9 386.1C374.4 386.7 372.4 387.9 371.6 388.3C370.8 388.7 367.9 390.1 367.2 390.2C366.5 390.3 364.7 389.3 364.5 389C364.3 388.7 365 387.4 365.5 387.2C366 386.9 368.6 386.8 369.4 386.5C370.1 386.2 372.3 385 373 384.5C373.7 384 375.6 382 376 381.8C376.4 381.6 377.1 382.4 377 382.8Z" fill="none" stroke="#3a3a3a" stroke-width="0.7"/>
<path d="M494 161C494.4 160.5 495.7 160.1 496.3 160.3C496.9 160.5 497.4 161.4 497.6 162.2C497.8 162.9 497.8 164.2 497.4 164.8C497 165.4 495.6 165.8 495 165.6C494.4 165.3 493.8 164.1 493.6 163.3C493.4 162.5 493.6 161.5 494 161Z" fill="none" stroke="#3a3a3a" stroke-width="0.7"/>
<path d="M506.9 304 L508.6 300.5 L511.3 295.5 L514.2 290.8" fill="none" stroke="#1e1e1e" stroke-width="1.5" stroke-linecap="round"/>
</g>
<rect x="325.6" y="107" width="287.6" height="294.2" fill="none" stroke="#8a8a8a" stroke-width="1.4"/>
<rect x="256.2" y="357.7" width="8.45" height="8.7" fill="#1c4896"/>
<rect x="264.6" y="357.7" width="9.25" height="8.7" fill="#f6c94e"/>
<rect x="273.9" y="357.7" width="9.6" height="8.7" fill="#1b8a42"/>
<rect x="256.2" y="359.4" width="3.7" height="0.9" fill="#b8c4ec"/>
<rect x="256.2" y="361.9" width="3.7" height="0.9" fill="#b8c4ec"/>
<rect x="256.2" y="363.9" width="3.7" height="0.9" fill="#b8c4ec"/>
<circle cx="269.3" cy="362.1" r="2" fill="none" stroke="#fbe9a8" stroke-width="0.9"/>
<path d="M282.4 359 L277.3 363 L280.1 365.2" fill="none" stroke="#7fd6a0" stroke-width="0.9"/>
<rect x="256.2" y="366.4" width="27.3" height="9.8" fill="#fff"/>
<path d="M283.5 366.4 V376.2 H256.2" fill="none" stroke="#555" stroke-width="0.8"/>
<text x="256.8" y="373.1" font-size="5.8" textLength="25.3" lengthAdjust="spacingAndGlyphs" fill="#3c3c3c">meteo.cat</text>
<text x="247.8" y="384" font-size="4.9" font-weight="bold" textLength="44.2" lengthAdjust="spacingAndGlyphs" fill="#222" stroke="#222" stroke-width="0.12">Servei Meteorològic</text>
<text x="255.6" y="388.9" font-size="4.9" font-weight="bold" textLength="28.8" lengthAdjust="spacingAndGlyphs" fill="#222" stroke="#222" stroke-width="0.12">de Catalunya</text>
<text x="251.2" y="397.4" font-size="5.3" textLength="34" lengthAdjust="spacingAndGlyphs" fill="#555">Data: 1/1/2026</text>
<rect x="569.4" y="357.7" width="8.45" height="8.7" fill="#1c4896"/>
<rect x="577.9" y="357.7" width="9.25" height="8.7" fill="#f6c94e"/>
<rect x="587.1" y="357.7" width="9.6" height="8.7" fill="#1b8a42"/>
<rect x="569.4" y="359.4" width="3.7" height="0.9" fill="#b8c4ec"/>
<rect x="569.4" y="361.9" width="3.7" height="0.9" fill="#b8c4ec"/>
<rect x="569.4" y="363.9" width="3.7" height="0.9" fill="#b8c4ec"/>
<circle cx="582.5" cy="362.1" r="2" fill="none" stroke="#fbe9a8" stroke-width="0.9"/>
<path d="M595.6 359 L590.5 363 L593.3 365.2" fill="none" stroke="#7fd6a0" stroke-width="0.9"/>
<rect x="569.4" y="366.4" width="27.3" height="9.8" fill="#fff"/>
<path d="M596.7 366.4 V376.2 H569.4" fill="none" stroke="#555" stroke-width="0.8"/>
<text x="570" y="373.1" font-size="5.8" textLength="25.3" lengthAdjust="spacingAndGlyphs" fill="#3c3c3c">meteo.cat</text>
<text x="560.9" y="384" font-size="4.9" font-weight="bold" textLength="44.2" lengthAdjust="spacingAndGlyphs" fill="#222" stroke="#222" stroke-width="0.12">Servei Meteorològic</text>
<text x="568.8" y="388.9" font-size="4.9" font-weight="bold" textLength="28.8" lengthAdjust="spacingAndGlyphs" fill="#222" stroke="#222" stroke-width="0.12">de Catalunya</text>
<text x="564.4" y="397.4" font-size="5.3" textLength="34" lengthAdjust="spacingAndGlyphs" fill="#555">Data: 2/1/2026</text>
<rect x="302" y="110.4" width="6" height="12.3" fill="rgb(124, 2, 10)"/>
<rect x="302" y="122.4" width="6" height="12.3" fill="rgb(154, 8, 20)"/>
<rect x="302" y="134.4" width="6" height="12.3" fill="rgb(174, 14, 28)"/>
<rect x="302" y="146.4" width="6" height="12.3" fill="rgb(186, 24, 38)"/>
<rect x="302" y="158.4" width="6" height="12.3" fill="rgb(194, 34, 48)"/>
<rect x="302" y="170.4" width="6" height="12.3" fill="rgb(200, 46, 60)"/>
<rect x="302" y="182.4" width="6" height="12.3" fill="rgb(206, 64, 78)"/>
<rect x="302" y="194.4" width="6" height="12.3" fill="rgb(212, 88, 100)"/>
<rect x="302" y="206.4" width="6" height="12.3" fill="rgb(220, 115, 126)"/>
<rect x="302" y="218.4" width="6" height="12.3" fill="rgb(230, 145, 152)"/>
<rect x="302" y="230.4" width="6" height="12.3" fill="rgb(237, 172, 177)"/>
<rect x="302" y="242.4" width="6" height="12.3" fill="rgb(242, 196, 199)"/>
<rect x="302" y="254.4" width="6" height="12.3" fill="rgb(247, 218, 220)"/>
<rect x="302" y="266.4" width="6" height="12.3" fill="rgb(251, 238, 238)"/>
<rect x="302" y="278.4" width="6" height="12.3" fill="rgb(240, 237, 244)"/>
<rect x="302" y="290.4" width="6" height="12.3" fill="rgb(213, 215, 238)"/>
<rect x="302" y="302.4" width="6" height="12.3" fill="rgb(183, 188, 227)"/>
<rect x="302" y="314.4" width="6" height="12.3" fill="rgb(149, 156, 213)"/>
<rect x="302" y="326.4" width="6" height="12.3" fill="rgb(118, 126, 200)"/>
<rect x="302" y="338.4" width="6" height="12.3" fill="rgb(90, 96, 188)"/>
<rect x="302" y="350.4" width="6" height="12.3" fill="rgb(64, 68, 177)"/>
<rect x="302" y="362.4" width="6" height="12.3" fill="rgb(40, 42, 167)"/>
<rect x="302" y="374.4" width="6" height="12.3" fill="rgb(21, 21, 156)"/>
<rect x="302" y="386.4" width="6" height="12.3" fill="rgb(7, 7, 144)"/>
<text x="310.1" y="135.9" font-size="5.3" fill="#3a3a3a">6</text>
<text x="310.1" y="159.9" font-size="5.3" fill="#3a3a3a">5</text>
<text x="310.1" y="183.9" font-size="5.3" fill="#3a3a3a">4</text>
<text x="310.1" y="207.9" font-size="5.3" fill="#3a3a3a">3</text>
<text x="310.1" y="231.9" font-size="5.3" fill="#3a3a3a">2</text>
<text x="310.1" y="255.9" font-size="5.3" fill="#3a3a3a">1</text>
<text x="310.1" y="279.9" font-size="5.3" fill="#3a3a3a">0</text>
<text x="309.7" y="303.9" font-size="5.3" fill="#3a3a3a">-1</text>
<text x="309.7" y="327.9" font-size="5.3" fill="#3a3a3a">-2</text>
<text x="309.7" y="351.9" font-size="5.3" fill="#3a3a3a">-3</text>
<text x="309.7" y="375.9" font-size="5.3" fill="#3a3a3a">-4</text>
<text x="309.7" y="399.9" font-size="5.3" fill="#3a3a3a">-5</text>
<rect x="616.4" y="126.6" width="7.6" height="19.9" fill="#0a78d6"/>
<rect x="616.4" y="146.2" width="7.6" height="19.9" fill="#0050b4"/>
<rect x="616.4" y="165.9" width="7.6" height="19.9" fill="#0c4c02"/>
<rect x="616.4" y="185.5" width="7.6" height="19.9" fill="#297400"/>
<rect x="616.4" y="205.1" width="7.6" height="19.9" fill="#72a800"/>
<rect x="616.4" y="224.8" width="7.6" height="19.9" fill="#9ae800"/>
<rect x="616.4" y="244.4" width="7.6" height="19.9" fill="#cef6b6"/>
<rect x="616.4" y="264" width="7.6" height="19.9" fill="#ffffff"/>
<rect x="616.4" y="283.6" width="7.6" height="19.9" fill="#fff5b4"/>
<rect x="616.4" y="303.3" width="7.6" height="19.9" fill="#f6d072"/>
<rect x="616.4" y="322.9" width="7.6" height="19.9" fill="#d4883e"/>
<rect x="616.4" y="342.5" width="7.6" height="19.9" fill="#b8460c"/>
<rect x="616.4" y="362.2" width="7.6" height="19.9" fill="#6e2306"/>
<text x="624.7" y="149.2" font-size="5.7" fill="#3a3a3a">500</text>
<text x="624.7" y="168.9" font-size="5.7" fill="#3a3a3a">400</text>
<text x="624.7" y="188.5" font-size="5.7" fill="#3a3a3a">300</text>
<text x="624.7" y="208.1" font-size="5.7" fill="#3a3a3a">200</text>
<text x="624.7" y="227.8" font-size="5.7" fill="#3a3a3a">150</text>
<text x="624.7" y="247.4" font-size="5.7" fill="#3a3a3a">130</text>
<text x="624.7" y="267" font-size="5.7" fill="#3a3a3a">110</text>
<text x="624.7" y="286.6" font-size="5.7" fill="#3a3a3a">90</text>
<text x="624.7" y="306.3" font-size="5.7" fill="#3a3a3a">70</text>
<text x="624.7" y="325.9" font-size="5.7" fill="#3a3a3a">50</text>
<text x="624.7" y="345.5" font-size="5.7" fill="#3a3a3a">30</text>
<text x="624.7" y="365.2" font-size="5.7" fill="#3a3a3a">15</text>
</svg>
</body></html>
